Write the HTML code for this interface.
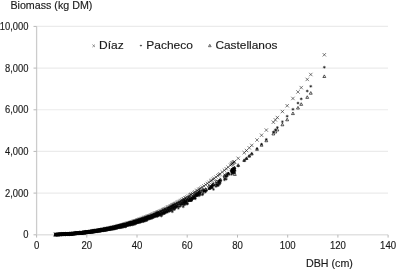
<!DOCTYPE html>
<html><head><meta charset="utf-8"><style>
html,body{margin:0;padding:0;background:#fff;width:396px;height:270px;overflow:hidden}
svg{display:block;will-change:transform}
text{font-family:"Liberation Sans",sans-serif;fill:#1a1a1a;stroke:#1a1a1a;stroke-width:0.15px}
</style></head><body>
<svg width="396" height="270" viewBox="0 0 396 270">
<g stroke="#ebebeb" stroke-width="1.1"><line x1="36.5" x2="388" y1="193.1" y2="193.1"/><line x1="36.5" x2="388" y1="151.4" y2="151.4"/><line x1="36.5" x2="388" y1="109.8" y2="109.8"/><line x1="36.5" x2="388" y1="68.1" y2="68.1"/><line x1="36.5" x2="388" y1="26.4" y2="26.4"/></g>
<g stroke="#b8b8b8" stroke-width="1">
<line x1="36.6" x2="36.6" y1="26.4" y2="234.8" stroke="#cccccc" stroke-width="1.3"/>
<line x1="36.5" x2="388" y1="234.8" y2="234.8" stroke="#e2e2e2" stroke-width="1.5"/>
<line x1="33.5" x2="36.6" y1="234.8" y2="234.8"/><line x1="33.5" x2="36.6" y1="193.1" y2="193.1"/><line x1="33.5" x2="36.6" y1="151.4" y2="151.4"/><line x1="33.5" x2="36.6" y1="109.8" y2="109.8"/><line x1="33.5" x2="36.6" y1="68.1" y2="68.1"/><line x1="33.5" x2="36.6" y1="26.4" y2="26.4"/><line x1="36.6" x2="36.6" y1="234.8" y2="237.6"/><line x1="86.8" x2="86.8" y1="234.8" y2="237.6"/><line x1="137.0" x2="137.0" y1="234.8" y2="237.6"/><line x1="187.2" x2="187.2" y1="234.8" y2="237.6"/><line x1="237.5" x2="237.5" y1="234.8" y2="237.6"/><line x1="287.7" x2="287.7" y1="234.8" y2="237.6"/><line x1="337.9" x2="337.9" y1="234.8" y2="237.6"/><line x1="388.1" x2="388.1" y1="234.8" y2="237.6"/></g>
<g font-size="10" text-anchor="end"><text transform="translate(28.4 238.30) scale(0.94 1)">0</text><text transform="translate(28.4 196.62) scale(0.94 1)">2,000</text><text transform="translate(28.4 154.94) scale(0.94 1)">4,000</text><text transform="translate(28.4 113.26) scale(0.94 1)">6,000</text><text transform="translate(28.4 71.58) scale(0.94 1)">8,000</text><text transform="translate(28.4 29.90) scale(0.94 1)">10,000</text></g>
<g font-size="10" text-anchor="middle"><text transform="translate(36.6 248.6) scale(0.96 1)">0</text><text transform="translate(86.8 248.6) scale(0.96 1)">20</text><text transform="translate(137.0 248.6) scale(0.96 1)">40</text><text transform="translate(187.2 248.6) scale(0.96 1)">60</text><text transform="translate(237.5 248.6) scale(0.96 1)">80</text><text transform="translate(287.7 248.6) scale(0.96 1)">100</text><text transform="translate(337.9 248.6) scale(0.96 1)">120</text><text transform="translate(388.1 248.6) scale(0.96 1)">140</text></g>
<text x="10.4" y="8.6" font-size="10.7">Biomass (kg DM)</text>
<text x="306" y="267.1" font-size="10.7">DBH (cm)</text>
<g fill="none" stroke="#111" stroke-width="0.55">
<path d="M53.73 232.85L57.13 236.25M53.73 236.25L57.13 232.85M53.98 232.84L57.38 236.24M53.98 236.24L57.38 232.84M54.24 232.83L57.64 236.23M54.24 236.23L57.64 232.83M54.49 232.82L57.89 236.22M54.49 236.22L57.89 232.82M54.74 232.81L58.14 236.21M54.74 236.21L58.14 232.81M54.99 232.80L58.39 236.20M54.99 236.20L58.39 232.80M55.25 232.79L58.65 236.19M55.25 236.19L58.65 232.79M55.50 232.78L58.90 236.18M55.50 236.18L58.90 232.78M55.75 232.77L59.15 236.17M55.75 236.17L59.15 232.77M56.01 232.77L59.41 236.17M56.01 236.17L59.41 232.77M56.26 232.76L59.66 236.16M56.26 236.16L59.66 232.76M56.51 232.75L59.91 236.15M56.51 236.15L59.91 232.75M56.77 232.74L60.17 236.14M56.77 236.14L60.17 232.74M57.02 232.73L60.42 236.13M57.02 236.13L60.42 232.73M57.27 232.71L60.67 236.11M57.27 236.11L60.67 232.71M57.53 232.70L60.93 236.10M57.53 236.10L60.93 232.70M57.78 232.69L61.18 236.09M57.78 236.09L61.18 232.69M58.03 232.68L61.43 236.08M58.03 236.08L61.43 232.68M58.29 232.67L61.69 236.07M58.29 236.07L61.69 232.67M58.54 232.66L61.94 236.06M58.54 236.06L61.94 232.66M58.80 232.65L62.20 236.05M58.80 236.05L62.20 232.65M59.05 232.64L62.45 236.04M59.05 236.04L62.45 232.64M59.30 232.63L62.70 236.03M59.30 236.03L62.70 232.63M59.56 232.61L62.96 236.01M59.56 236.01L62.96 232.61M59.81 232.60L63.21 236.00M59.81 236.00L63.21 232.60M60.07 232.59L63.47 235.99M60.07 235.99L63.47 232.59M60.32 232.58L63.72 235.98M60.32 235.98L63.72 232.58M60.57 232.56L63.97 235.96M60.57 235.96L63.97 232.56M60.83 232.55L64.23 235.95M60.83 235.95L64.23 232.55M61.08 232.54L64.48 235.94M61.08 235.94L64.48 232.54M61.34 232.52L64.74 235.92M61.34 235.92L64.74 232.52M61.59 232.51L64.99 235.91M61.59 235.91L64.99 232.51M61.85 232.50L65.25 235.90M61.85 235.90L65.25 232.50M62.10 232.48L65.50 235.88M62.10 235.88L65.50 232.48M62.35 232.47L65.75 235.87M62.35 235.87L65.75 232.47M62.61 232.46L66.01 235.86M62.61 235.86L66.01 232.46M62.86 232.44L66.26 235.84M62.86 235.84L66.26 232.44M63.12 232.43L66.52 235.83M63.12 235.83L66.52 232.43M63.38 232.41L66.78 235.81M63.38 235.81L66.78 232.41M63.63 232.40L67.03 235.80M63.63 235.80L67.03 232.40M63.89 232.38L67.29 235.78M63.89 235.78L67.29 232.38M64.15 232.37L67.55 235.77M64.15 235.77L67.55 232.37M64.41 232.35L67.81 235.75M64.41 235.75L67.81 232.35M64.66 232.33L68.06 235.73M64.66 235.73L68.06 232.33M64.92 232.32L68.32 235.72M64.92 235.72L68.32 232.32M65.18 232.30L68.58 235.70M65.18 235.70L68.58 232.30M65.43 232.29L68.83 235.69M65.43 235.69L68.83 232.29M65.70 232.27L69.10 235.67M65.70 235.67L69.10 232.27M65.95 232.25L69.35 235.65M65.95 235.65L69.35 232.25M66.21 232.23L69.61 235.63M66.21 235.63L69.61 232.23M66.47 232.22L69.87 235.62M66.47 235.62L69.87 232.22M66.73 232.20L70.13 235.60M66.73 235.60L70.13 232.20M66.99 232.18L70.39 235.58M66.99 235.58L70.39 232.18M67.25 232.16L70.65 235.56M67.25 235.56L70.65 232.16M67.51 232.15L70.91 235.55M67.51 235.55L70.91 232.15M67.77 232.13L71.17 235.53M67.77 235.53L71.17 232.13M68.03 232.11L71.43 235.51M68.03 235.51L71.43 232.11M68.28 232.09L71.68 235.49M68.28 235.49L71.68 232.09M68.54 232.07L71.94 235.47M68.54 235.47L71.94 232.07M68.80 232.05L72.20 235.45M68.80 235.45L72.20 232.05M69.06 232.03L72.46 235.43M69.06 235.43L72.46 232.03M69.32 232.01L72.72 235.41M69.32 235.41L72.72 232.01M69.58 231.99L72.98 235.39M69.58 235.39L72.98 231.99M69.84 231.97L73.24 235.37M69.84 235.37L73.24 231.97M70.11 231.95L73.51 235.35M70.11 235.35L73.51 231.95M70.37 231.93L73.77 235.33M70.37 235.33L73.77 231.93M70.63 231.91L74.03 235.31M70.63 235.31L74.03 231.91M70.89 231.89L74.29 235.29M70.89 235.29L74.29 231.89M71.15 231.87L74.55 235.27M71.15 235.27L74.55 231.87M71.41 231.85L74.81 235.25M71.41 235.25L74.81 231.85M71.67 231.83L75.07 235.23M71.67 235.23L75.07 231.83M71.94 231.80L75.34 235.20M71.94 235.20L75.34 231.80M72.19 231.78L75.59 235.18M72.19 235.18L75.59 231.78M72.45 231.76L75.85 235.16M72.45 235.16L75.85 231.76M72.72 231.74L76.12 235.14M72.72 235.14L76.12 231.74M72.99 231.71L76.39 235.11M72.99 235.11L76.39 231.71M73.25 231.69L76.65 235.09M73.25 235.09L76.65 231.69M73.51 231.67L76.91 235.07M73.51 235.07L76.91 231.67M73.77 231.64L77.17 235.04M73.77 235.04L77.17 231.64M74.04 231.62L77.44 235.02M74.04 235.02L77.44 231.62M74.31 231.60L77.71 235.00M74.31 235.00L77.71 231.60M74.58 231.57L77.98 234.97M74.58 234.97L77.98 231.57M74.84 231.55L78.24 234.95M74.84 234.95L78.24 231.55M75.11 231.52L78.51 234.92M75.11 234.92L78.51 231.52M75.38 231.50L78.78 234.90M75.38 234.90L78.78 231.50M75.64 231.47L79.04 234.87M75.64 234.87L79.04 231.47M75.91 231.44L79.31 234.84M75.91 234.84L79.31 231.44M76.18 231.42L79.58 234.82M76.18 234.82L79.58 231.42M76.45 231.39L79.85 234.79M76.45 234.79L79.85 231.39M76.71 231.37L80.11 234.77M76.71 234.77L80.11 231.37M76.98 231.34L80.38 234.74M76.98 234.74L80.38 231.34M77.26 231.31L80.66 234.71M77.26 234.71L80.66 231.31M77.52 231.28L80.92 234.68M77.52 234.68L80.92 231.28M77.79 231.26L81.19 234.66M77.79 234.66L81.19 231.26M78.06 231.23L81.46 234.63M78.06 234.63L81.46 231.23M78.34 231.20L81.74 234.60M78.34 234.60L81.74 231.20M78.61 231.17L82.01 234.57M78.61 234.57L82.01 231.17M78.89 231.14L82.29 234.54M78.89 234.54L82.29 231.14M79.16 231.11L82.56 234.51M79.16 234.51L82.56 231.11M79.43 231.08L82.83 234.48M79.43 234.48L82.83 231.08M79.70 231.05L83.10 234.45M79.70 234.45L83.10 231.05M79.96 231.02L83.36 234.42M79.96 234.42L83.36 231.02M80.24 230.99L83.64 234.39M80.24 234.39L83.64 230.99M80.52 230.96L83.92 234.36M80.52 234.36L83.92 230.96M80.78 230.93L84.18 234.33M80.78 234.33L84.18 230.93M81.06 230.90L84.46 234.30M81.06 234.30L84.46 230.90M81.33 230.87L84.73 234.27M81.33 234.27L84.73 230.87M81.60 230.84L85.00 234.24M81.60 234.24L85.00 230.84M81.87 230.80L85.27 234.20M81.87 234.20L85.27 230.80M82.15 230.77L85.55 234.17M82.15 234.17L85.55 230.77M82.42 230.74L85.82 234.14M82.42 234.14L85.82 230.74M82.70 230.71L86.10 234.11M82.70 234.11L86.10 230.71M82.98 230.67L86.38 234.07M82.98 234.07L86.38 230.67M83.24 230.64L86.64 234.04M83.24 234.04L86.64 230.64M83.51 230.61L86.91 234.01M83.51 234.01L86.91 230.61M83.78 230.57L87.18 233.97M83.78 233.97L87.18 230.57M84.06 230.54L87.46 233.94M84.06 233.94L87.46 230.54M84.35 230.50L87.75 233.90M84.35 233.90L87.75 230.50M84.63 230.47L88.03 233.87M84.63 233.87L88.03 230.47M84.92 230.43L88.32 233.83M84.92 233.83L88.32 230.43M85.21 230.39L88.61 233.79M85.21 233.79L88.61 230.39M85.48 230.36L88.88 233.76M85.48 233.76L88.88 230.36M85.77 230.32L89.17 233.72M85.77 233.72L89.17 230.32M86.06 230.28L89.46 233.68M86.06 233.68L89.46 230.28M86.33 230.25L89.73 233.65M86.33 233.65L89.73 230.25M86.59 230.21L89.99 233.61M86.59 233.61L89.99 230.21M86.86 230.17L90.26 233.57M86.86 233.57L90.26 230.17M87.15 230.13L90.55 233.53M87.15 233.53L90.55 230.13M87.43 230.10L90.83 233.50M87.43 233.50L90.83 230.10M87.70 230.06L91.10 233.46M87.70 233.46L91.10 230.06M87.98 230.02L91.38 233.42M87.98 233.42L91.38 230.02M88.26 229.98L91.66 233.38M88.26 233.38L91.66 229.98M88.53 229.94L91.93 233.34M88.53 233.34L91.93 229.94M88.81 229.90L92.21 233.30M88.81 233.30L92.21 229.90M89.10 229.86L92.50 233.26M89.10 233.26L92.50 229.86M89.37 229.82L92.77 233.22M89.37 233.22L92.77 229.82M89.65 229.78L93.05 233.18M89.65 233.18L93.05 229.78M89.95 229.74L93.35 233.14M89.95 233.14L93.35 229.74M90.23 229.69L93.63 233.09M90.23 233.09L93.63 229.69M90.52 229.65L93.92 233.05M90.52 233.05L93.92 229.65M90.80 229.61L94.20 233.01M90.80 233.01L94.20 229.61M91.08 229.57L94.48 232.97M91.08 232.97L94.48 229.57M91.36 229.53L94.76 232.93M91.36 232.93L94.76 229.53M91.65 229.48L95.05 232.88M91.65 232.88L95.05 229.48M91.93 229.44L95.33 232.84M91.93 232.84L95.33 229.44M92.21 229.39L95.61 232.79M92.21 232.79L95.61 229.39M92.52 229.35L95.92 232.75M92.52 232.75L95.92 229.35M92.81 229.30L96.21 232.70M92.81 232.70L96.21 229.30M93.09 229.26L96.49 232.66M93.09 232.66L96.49 229.26M93.40 229.21L96.80 232.61M93.40 232.61L96.80 229.21M93.71 229.16L97.11 232.56M93.71 232.56L97.11 229.16M93.98 229.11L97.38 232.51M93.98 232.51L97.38 229.11M94.26 229.07L97.66 232.47M94.26 232.47L97.66 229.07M94.54 229.02L97.94 232.42M94.54 232.42L97.94 229.02M94.85 228.97L98.25 232.37M94.85 232.37L98.25 228.97M95.13 228.92L98.53 232.32M95.13 232.32L98.53 228.92M95.44 228.87L98.84 232.27M95.44 232.27L98.84 228.87M95.75 228.82L99.15 232.22M95.75 232.22L99.15 228.82M96.05 228.77L99.45 232.17M96.05 232.17L99.45 228.77M96.34 228.72L99.74 232.12M96.34 232.12L99.74 228.72M96.67 228.66L100.07 232.06M96.67 232.06L100.07 228.66M96.99 228.61L100.39 232.01M96.99 232.01L100.39 228.61M97.30 228.55L100.70 231.95M97.30 231.95L100.70 228.55M97.59 228.50L100.99 231.90M97.59 231.90L100.99 228.50M97.90 228.45L101.30 231.85M97.90 231.85L101.30 228.45M98.20 228.39L101.60 231.79M98.20 231.79L101.60 228.39M98.52 228.34L101.92 231.74M98.52 231.74L101.92 228.34M98.82 228.28L102.22 231.68M98.82 231.68L102.22 228.28M99.13 228.22L102.53 231.62M99.13 231.62L102.53 228.22M99.42 228.17L102.82 231.57M99.42 231.57L102.82 228.17M99.72 228.12L103.12 231.52M99.72 231.52L103.12 228.12M100.06 228.05L103.46 231.45M100.06 231.45L103.46 228.05M100.40 227.99L103.80 231.39M100.40 231.39L103.80 227.99M100.70 227.93L104.10 231.33M100.70 231.33L104.10 227.93M101.04 227.87L104.44 231.27M101.04 231.27L104.44 227.87M101.34 227.81L104.74 231.21M101.34 231.21L104.74 227.81M101.69 227.74L105.09 231.14M101.69 231.14L105.09 227.74M102.02 227.68L105.42 231.08M102.02 231.08L105.42 227.68M102.33 227.62L105.73 231.02M102.33 231.02L105.73 227.62M102.64 227.56L106.04 230.96M102.64 230.96L106.04 227.56M102.92 227.50L106.32 230.90M102.92 230.90L106.32 227.50M103.27 227.43L106.67 230.83M103.27 230.83L106.67 227.43M103.56 227.38L106.96 230.78M103.56 230.78L106.96 227.38M103.91 227.31L107.31 230.71M103.91 230.71L107.31 227.31M104.27 227.23L107.67 230.63M104.27 230.63L107.67 227.23M104.60 227.16L108.00 230.56M104.60 230.56L108.00 227.16M104.90 227.10L108.30 230.50M104.90 230.50L108.30 227.10M105.26 227.03L108.66 230.43M105.26 230.43L108.66 227.03M105.63 226.95L109.03 230.35M105.63 230.35L109.03 226.95M105.98 226.88L109.38 230.28M105.98 230.28L109.38 226.88M106.31 226.81L109.71 230.21M106.31 230.21L109.71 226.81M106.63 226.74L110.03 230.14M106.63 230.14L110.03 226.74M106.95 226.67L110.35 230.07M106.95 230.07L110.35 226.67M107.26 226.60L110.66 230.00M107.26 230.00L110.66 226.60M107.62 226.53L111.02 229.93M107.62 229.93L111.02 226.53M107.95 226.46L111.35 229.86M107.95 229.86L111.35 226.46M108.26 226.39L111.66 229.79M108.26 229.79L111.66 226.39M108.56 226.32L111.96 229.72M108.56 229.72L111.96 226.32M108.92 226.24L112.32 229.64M108.92 229.64L112.32 226.24M109.24 226.17L112.64 229.57M109.24 229.57L112.64 226.17M109.59 226.09L112.99 229.49M109.59 229.49L112.99 226.09M109.92 226.02L113.32 229.42M109.92 229.42L113.32 226.02M110.30 225.93L113.70 229.33M110.30 229.33L113.70 225.93M110.68 225.84L114.08 229.24M110.68 229.24L114.08 225.84M110.99 225.77L114.39 229.17M110.99 229.17L114.39 225.77M111.31 225.70L114.71 229.10M111.31 229.10L114.71 225.70M111.64 225.62L115.04 229.02M111.64 229.02L115.04 225.62M112.04 225.52L115.44 228.92M112.04 228.92L115.44 225.52M112.43 225.43L115.83 228.83M112.43 228.83L115.83 225.43M112.77 225.35L116.17 228.75M112.77 228.75L116.17 225.35M113.09 225.27L116.49 228.67M113.09 228.67L116.49 225.27M113.47 225.18L116.87 228.58M113.47 228.58L116.87 225.18M113.87 225.08L117.27 228.48M113.87 228.48L117.27 225.08M114.28 224.98L117.68 228.38M114.28 228.38L117.68 224.98M114.63 224.90L118.03 228.30M114.63 228.30L118.03 224.90M115.04 224.80L118.44 228.20M115.04 228.20L118.44 224.80M115.42 224.70L118.82 228.10M115.42 228.10L118.82 224.70M115.79 224.61L119.19 228.01M115.79 228.01L119.19 224.61M116.22 224.50L119.62 227.90M116.22 227.90L119.62 224.50M116.56 224.41L119.96 227.81M116.56 227.81L119.96 224.41M116.96 224.31L120.36 227.71M116.96 227.71L120.36 224.31M117.29 224.22L120.69 227.62M117.29 227.62L120.69 224.22M117.62 224.14L121.02 227.54M117.62 227.54L121.02 224.14M118.05 224.02L121.45 227.42M118.05 227.42L121.45 224.02M118.40 223.93L121.80 227.33M118.40 227.33L121.80 223.93M118.81 223.82L122.21 227.22M118.81 227.22L122.21 223.82M119.21 223.72L122.61 227.12M119.21 227.12L122.61 223.72M119.64 223.60L123.04 227.00M119.64 227.00L123.04 223.60M120.01 223.50L123.41 226.90M120.01 226.90L123.41 223.50M120.38 223.40L123.78 226.80M120.38 226.80L123.78 223.40M120.74 223.30L124.14 226.70M120.74 226.70L124.14 223.30M121.19 223.18L124.59 226.58M121.19 226.58L124.59 223.18M121.60 223.06L125.00 226.46M121.60 226.46L125.00 223.06M122.07 222.93L125.47 226.33M122.07 226.33L125.47 222.93M122.52 222.81L125.92 226.21M122.52 226.21L125.92 222.81M122.87 222.71L126.27 226.11M122.87 226.11L126.27 222.71M123.28 222.59L126.68 225.99M123.28 225.99L126.68 222.59M123.63 222.49L127.03 225.89M123.63 225.89L127.03 222.49M123.97 222.39L127.37 225.79M123.97 225.79L127.37 222.39M124.31 222.29L127.71 225.69M124.31 225.69L127.71 222.29M124.78 222.16L128.18 225.56M124.78 225.56L128.18 222.16M125.24 222.02L128.64 225.42M125.24 225.42L128.64 222.02M125.71 221.88L129.11 225.28M125.71 225.28L129.11 221.88M126.11 221.76L129.51 225.16M126.11 225.16L129.51 221.76M126.55 221.63L129.95 225.03M126.55 225.03L129.95 221.63M127.02 221.49L130.42 224.89M127.02 224.89L130.42 221.49M127.43 221.36L130.83 224.76M127.43 224.76L130.83 221.36M127.87 221.23L131.27 224.63M127.87 224.63L131.27 221.23M128.25 221.11L131.65 224.51M128.25 224.51L131.65 221.11M128.61 221.00L132.01 224.40M128.61 224.40L132.01 221.00M129.00 220.88L132.40 224.28M129.00 224.28L132.40 220.88M129.52 220.72L132.92 224.12M129.52 224.12L132.92 220.72M129.97 220.57L133.37 223.97M129.97 223.97L133.37 220.57M130.50 220.40L133.90 223.80M130.50 223.80L133.90 220.40M130.94 220.26L134.34 223.66M130.94 223.66L134.34 220.26M131.35 220.13L134.75 223.53M131.35 223.53L134.75 220.13M131.86 219.97L135.26 223.37M131.86 223.37L135.26 219.97M132.38 219.79L135.78 223.19M132.38 223.19L135.78 219.79M132.74 219.68L136.14 223.08M132.74 223.08L136.14 219.68M133.24 219.51L136.64 222.91M133.24 222.91L136.64 219.51M133.62 219.39L137.02 222.79M133.62 222.79L137.02 219.39M134.00 219.26L137.40 222.66M134.00 222.66L137.40 219.26M134.56 219.07L137.96 222.47M134.56 222.47L137.96 219.07M134.93 218.94L138.33 222.34M134.93 222.34L138.33 218.94M135.34 218.80L138.74 222.20M135.34 222.20L138.74 218.80M135.94 218.60L139.34 222.00M135.94 222.00L139.34 218.60M136.40 218.44L139.80 221.84M136.40 221.84L139.80 218.44M136.80 218.30L140.20 221.70M136.80 221.70L140.20 218.30M137.21 218.15L140.61 221.55M137.21 221.55L140.61 218.15M137.64 218.00L141.04 221.40M137.64 221.40L141.04 218.00M138.19 217.80L141.59 221.20M138.19 221.20L141.59 217.80M138.59 217.66L141.99 221.06M138.59 221.06L141.99 217.66M139.20 217.44L142.60 220.84M139.20 220.84L142.60 217.44M139.68 217.27L143.08 220.67M139.68 220.67L143.08 217.27M140.31 217.04L143.71 220.44M140.31 220.44L143.71 217.04M140.93 216.81L144.33 220.21M140.93 220.21L144.33 216.81M141.40 216.64L144.80 220.04M141.40 220.04L144.80 216.64M141.85 216.47L145.25 219.87M141.85 219.87L145.25 216.47M142.37 216.27L145.77 219.67M142.37 219.67L145.77 216.27M142.79 216.11L146.19 219.51M142.79 219.51L146.19 216.11M143.37 215.89L146.77 219.29M143.37 219.29L146.77 215.89M143.78 215.74L147.18 219.14M143.78 219.14L147.18 215.74M144.18 215.58L147.58 218.98M144.18 218.98L147.58 215.58M144.87 215.32L148.27 218.72M144.87 218.72L148.27 215.32M145.35 215.13L148.75 218.53M145.35 218.53L148.75 215.13M145.94 214.90L149.34 218.30M145.94 218.30L149.34 214.90M146.48 214.68L149.88 218.08M146.48 218.08L149.88 214.68M146.99 214.48L150.39 217.88M146.99 217.88L150.39 214.48M147.42 214.31L150.82 217.71M147.42 217.71L150.82 214.31M148.13 214.02L151.53 217.42M148.13 217.42L151.53 214.02M148.86 213.72L152.26 217.12M148.86 217.12L152.26 213.72M149.60 213.42L153.00 216.82M149.60 216.82L153.00 213.42M150.06 213.23L153.46 216.63M150.06 216.63L153.46 213.23M150.56 213.02L153.96 216.42M150.56 216.42L153.96 213.02M151.20 212.75L154.60 216.15M151.20 216.15L154.60 212.75M151.97 212.42L155.37 215.82M151.97 215.82L155.37 212.42M152.60 212.16L156.00 215.56M152.60 215.56L156.00 212.16M153.29 211.86L156.69 215.26M153.29 215.26L156.69 211.86M153.98 211.56L157.38 214.96M153.98 214.96L157.38 211.56M154.52 211.33L157.92 214.73M154.52 214.73L157.92 211.33M155.17 211.04L158.57 214.44M155.17 214.44L158.57 211.04M155.74 210.79L159.14 214.19M155.74 214.19L159.14 210.79M156.29 210.54L159.69 213.94M156.29 213.94L159.69 210.54M156.77 210.33L160.17 213.73M156.77 213.73L160.17 210.33M157.34 210.07L160.74 213.47M157.34 213.47L160.74 210.07M158.21 209.67L161.61 213.07M158.21 213.07L161.61 209.67M158.86 209.38L162.26 212.78M158.86 212.78L162.26 209.38M159.61 209.03L163.01 212.43M159.61 212.43L163.01 209.03M160.36 208.68L163.76 212.08M160.36 212.08L163.76 208.68M161.25 208.26L164.65 211.66M161.25 211.66L164.65 208.26M161.91 207.95L165.31 211.35M161.91 211.35L165.31 207.95M162.53 207.65L165.93 211.05M162.53 211.05L165.93 207.65M163.17 207.34L166.57 210.74M163.17 210.74L166.57 207.34M163.81 207.03L167.21 210.43M163.81 210.43L167.21 207.03M164.71 206.59L168.11 209.99M164.71 209.99L168.11 206.59M165.65 206.13L169.05 209.53M165.65 209.53L169.05 206.13M166.31 205.80L169.71 209.20M166.31 209.20L169.71 205.80M166.98 205.46L170.38 208.86M166.98 208.86L170.38 205.46M167.78 205.06L171.18 208.46M167.78 208.46L171.18 205.06M168.60 204.64L172.00 208.04M168.60 208.04L172.00 204.64M169.44 204.20L172.84 207.60M169.44 207.60L172.84 204.20M170.10 203.86L173.50 207.26M170.10 207.26L173.50 203.86M170.64 203.58L174.04 206.98M170.64 206.98L174.04 203.58M171.31 203.23L174.71 206.63M171.31 206.63L174.71 203.23M171.89 202.92L175.29 206.32M171.89 206.32L175.29 202.92M172.75 202.46L176.15 205.86M172.75 205.86L176.15 202.46M173.34 202.15L176.74 205.55M173.34 205.55L176.74 202.15M173.94 201.83L177.34 205.23M173.94 205.23L177.34 201.83M174.88 201.31L178.28 204.71M174.88 204.71L178.28 201.31M175.62 200.91L179.02 204.31M175.62 204.31L179.02 200.91M176.68 200.32L180.08 203.72M176.68 203.72L180.08 200.32M177.57 199.82L180.97 203.22M177.57 203.22L180.97 199.82M178.72 199.18L182.12 202.58M178.72 202.58L182.12 199.18M179.41 198.78L182.81 202.18M179.41 202.18L182.81 198.78M180.34 198.25L183.74 201.65M180.34 201.65L183.74 198.25M181.49 197.58L184.89 200.98M181.49 200.98L184.89 197.58M182.15 197.19L185.55 200.59M182.15 200.59L185.55 197.19M183.44 196.43L186.84 199.83M183.44 199.83L186.84 196.43M184.19 195.98L187.59 199.38M184.19 199.38L187.59 195.98M185.40 195.26L188.80 198.66M185.40 198.66L188.80 195.26M186.80 194.41L190.20 197.81M186.80 197.81L190.20 194.41M188.09 193.61L191.49 197.01M188.09 197.01L191.49 193.61M189.01 193.04L192.41 196.44M189.01 196.44L192.41 193.04M189.76 192.57L193.16 195.97M189.76 195.97L193.16 192.57M190.86 191.87L194.26 195.27M190.86 195.27L194.26 191.87M192.33 190.93L195.73 194.33M192.33 194.33L195.73 190.93M193.28 190.31L196.68 193.71M193.28 193.71L196.68 190.31M194.78 189.33L198.18 192.73M194.78 192.73L198.18 189.33M195.62 188.78L199.02 192.18M195.62 192.18L199.02 188.78M197.19 187.72L200.59 191.12M197.19 191.12L200.59 187.72M197.96 187.21L201.36 190.61M197.96 190.61L201.36 187.21M199.01 186.49L202.41 189.89M199.01 189.89L202.41 186.49M200.66 185.36L204.06 188.76M200.66 188.76L204.06 185.36M202.25 184.25L205.65 187.65M202.25 187.65L205.65 184.25M203.98 183.02L207.38 186.42M203.98 186.42L207.38 183.02M205.70 181.79L209.10 185.19M205.70 185.19L209.10 181.79M207.35 180.59L210.75 183.99M207.35 183.99L210.75 180.59M208.98 179.38L212.38 182.78M208.98 182.78L212.38 179.38M210.04 178.60L213.44 182.00M210.04 182.00L213.44 178.60M211.42 177.56L214.82 180.96M211.42 180.96L214.82 177.56M212.48 176.74L215.88 180.14M212.48 180.14L215.88 176.74M214.27 175.37L217.67 178.77M214.27 178.77L217.67 175.37M216.04 173.99L219.44 177.39M216.04 177.39L219.44 173.99M217.30 172.99L220.70 176.39M217.30 176.39L220.70 172.99M218.33 172.18L221.73 175.58M218.33 175.58L221.73 172.18M220.62 170.33L224.02 173.73M220.62 173.73L224.02 170.33M222.76 168.58L226.16 171.98M222.76 171.98L226.16 168.58M224.58 167.06L227.98 170.46M224.58 170.46L227.98 167.06M226.43 165.50L229.83 168.90M226.43 168.90L229.83 165.50M228.82 163.45L232.22 166.85M228.82 166.85L232.22 163.45M230.64 161.86L234.04 165.26M230.64 165.26L234.04 161.86M232.41 160.31L235.81 163.71M232.41 163.71L235.81 160.31M229.73 162.66L233.13 166.06M229.73 166.06L233.13 162.66M230.48 162.00L233.88 165.40M230.48 165.40L233.88 162.00M231.24 161.34L234.64 164.74M231.24 164.74L234.64 161.34M231.99 160.68L235.39 164.08M231.99 164.08L235.39 160.68M232.74 160.01L236.14 163.41M232.74 163.41L236.14 160.01M236.51 156.62L239.91 160.02M236.51 160.02L239.91 156.62M242.54 151.00L245.94 154.40M242.54 154.40L245.94 151.00M244.80 148.83L248.20 152.23M244.80 152.23L248.20 148.83M247.56 146.14L250.96 149.54M247.56 149.54L250.96 146.14M250.07 143.65L253.47 147.05M250.07 147.05L253.47 143.65M255.34 138.28L258.74 141.68M255.34 141.68L258.74 138.28M259.86 133.53L263.26 136.93M259.86 136.93L263.26 133.53M264.63 128.38L268.03 131.78M264.63 131.78L268.03 128.38M271.66 120.50L275.06 123.90M271.66 123.90L275.06 120.50M273.67 118.18L277.07 121.58M273.67 121.58L277.07 118.18M275.68 115.84L279.08 119.24M275.68 119.24L279.08 115.84M280.70 109.87L284.10 113.27M280.70 113.27L284.10 109.87M285.47 104.04L288.87 107.44M285.47 107.44L288.87 104.04M291.24 96.76L294.64 100.16M291.24 100.16L294.64 96.76M296.27 90.25L299.67 93.65M296.27 93.65L299.67 90.25M299.53 85.92L302.93 89.32M299.53 89.32L302.93 85.92M305.56 77.72L308.95 81.12M305.56 81.12L308.95 77.72M309.07 72.82L312.47 76.22M309.07 76.22L312.47 72.82M322.63 53.08L326.03 56.48M322.63 56.48L326.03 53.08"/>
</g>
<g fill="none" stroke="#111" stroke-width="0.55">
<path d="M53.98 234.62h2.90M55.43 233.17v2.90M54.56 233.75l1.74 1.74M54.56 235.49l1.74 -1.74M54.23 234.61h2.90M55.68 233.16v2.90M54.81 233.74l1.74 1.74M54.81 235.48l1.74 -1.74M54.49 234.60h2.90M55.94 233.15v2.90M55.07 233.73l1.74 1.74M55.07 235.47l1.74 -1.74M54.74 234.60h2.90M56.19 233.15v2.90M55.32 233.73l1.74 1.74M55.32 235.47l1.74 -1.74M54.99 234.59h2.90M56.44 233.14v2.90M55.57 233.72l1.74 1.74M55.57 235.46l1.74 -1.74M55.24 234.58h2.90M56.69 233.13v2.90M55.82 233.71l1.74 1.74M55.82 235.45l1.74 -1.74M55.50 234.58h2.90M56.95 233.13v2.90M56.08 233.71l1.74 1.74M56.08 235.45l1.74 -1.74M55.75 234.57h2.90M57.20 233.12v2.90M56.33 233.70l1.74 1.74M56.33 235.44l1.74 -1.74M56.00 234.56h2.90M57.45 233.11v2.90M56.58 233.69l1.74 1.74M56.58 235.43l1.74 -1.74M56.26 234.56h2.90M57.71 233.11v2.90M56.84 233.69l1.74 1.74M56.84 235.43l1.74 -1.74M56.51 234.55h2.90M57.96 233.10v2.90M57.09 233.68l1.74 1.74M57.09 235.42l1.74 -1.74M56.76 234.54h2.90M58.21 233.09v2.90M57.34 233.67l1.74 1.74M57.34 235.41l1.74 -1.74M57.02 234.53h2.90M58.47 233.08v2.90M57.60 233.66l1.74 1.74M57.60 235.40l1.74 -1.74M57.27 234.53h2.90M58.72 233.08v2.90M57.85 233.66l1.74 1.74M57.85 235.40l1.74 -1.74M57.52 234.52h2.90M58.97 233.07v2.90M58.10 233.65l1.74 1.74M58.10 235.39l1.74 -1.74M57.78 234.51h2.90M59.23 233.06v2.90M58.36 233.64l1.74 1.74M58.36 235.38l1.74 -1.74M58.03 234.50h2.90M59.48 233.05v2.90M58.61 233.63l1.74 1.74M58.61 235.37l1.74 -1.74M58.28 234.49h2.90M59.73 233.04v2.90M58.86 233.62l1.74 1.74M58.86 235.36l1.74 -1.74M58.54 234.48h2.90M59.99 233.03v2.90M59.12 233.61l1.74 1.74M59.12 235.35l1.74 -1.74M58.79 234.48h2.90M60.24 233.03v2.90M59.37 233.61l1.74 1.74M59.37 235.35l1.74 -1.74M59.05 234.47h2.90M60.50 233.02v2.90M59.63 233.60l1.74 1.74M59.63 235.34l1.74 -1.74M59.30 234.46h2.90M60.75 233.01v2.90M59.88 233.59l1.74 1.74M59.88 235.33l1.74 -1.74M59.55 234.45h2.90M61.00 233.00v2.90M60.13 233.58l1.74 1.74M60.13 235.32l1.74 -1.74M59.81 234.44h2.90M61.26 232.99v2.90M60.39 233.57l1.74 1.74M60.39 235.31l1.74 -1.74M60.06 234.43h2.90M61.51 232.98v2.90M60.64 233.56l1.74 1.74M60.64 235.30l1.74 -1.74M60.32 234.42h2.90M61.77 232.97v2.90M60.90 233.55l1.74 1.74M60.90 235.29l1.74 -1.74M60.57 234.41h2.90M62.02 232.96v2.90M61.15 233.54l1.74 1.74M61.15 235.28l1.74 -1.74M60.82 234.40h2.90M62.27 232.95v2.90M61.40 233.53l1.74 1.74M61.40 235.27l1.74 -1.74M61.08 234.39h2.90M62.53 232.94v2.90M61.66 233.52l1.74 1.74M61.66 235.26l1.74 -1.74M61.33 234.38h2.90M62.78 232.93v2.90M61.91 233.51l1.74 1.74M61.91 235.25l1.74 -1.74M61.59 234.37h2.90M63.04 232.92v2.90M62.17 233.50l1.74 1.74M62.17 235.24l1.74 -1.74M61.84 234.36h2.90M63.29 232.91v2.90M62.42 233.49l1.74 1.74M62.42 235.23l1.74 -1.74M62.10 234.35h2.90M63.55 232.90v2.90M62.68 233.48l1.74 1.74M62.68 235.22l1.74 -1.74M62.35 234.34h2.90M63.80 232.89v2.90M62.93 233.47l1.74 1.74M62.93 235.21l1.74 -1.74M62.60 234.33h2.90M64.05 232.88v2.90M63.18 233.46l1.74 1.74M63.18 235.20l1.74 -1.74M62.86 234.32h2.90M64.31 232.87v2.90M63.44 233.45l1.74 1.74M63.44 235.19l1.74 -1.74M63.11 234.31h2.90M64.56 232.86v2.90M63.69 233.44l1.74 1.74M63.69 235.18l1.74 -1.74M63.37 234.30h2.90M64.82 232.85v2.90M63.95 233.43l1.74 1.74M63.95 235.17l1.74 -1.74M63.63 234.28h2.90M65.08 232.83v2.90M64.21 233.41l1.74 1.74M64.21 235.15l1.74 -1.74M63.88 234.27h2.90M65.33 232.82v2.90M64.46 233.40l1.74 1.74M64.46 235.14l1.74 -1.74M64.14 234.26h2.90M65.59 232.81v2.90M64.72 233.39l1.74 1.74M64.72 235.13l1.74 -1.74M64.40 234.25h2.90M65.85 232.80v2.90M64.98 233.38l1.74 1.74M64.98 235.12l1.74 -1.74M64.66 234.24h2.90M66.11 232.79v2.90M65.24 233.37l1.74 1.74M65.24 235.11l1.74 -1.74M64.91 234.22h2.90M66.36 232.77v2.90M65.49 233.35l1.74 1.74M65.49 235.09l1.74 -1.74M65.17 234.21h2.90M66.62 232.76v2.90M65.75 233.34l1.74 1.74M65.75 235.08l1.74 -1.74M65.43 234.20h2.90M66.88 232.75v2.90M66.01 233.33l1.74 1.74M66.01 235.07l1.74 -1.74M65.68 234.19h2.90M67.13 232.74v2.90M66.26 233.32l1.74 1.74M66.26 235.06l1.74 -1.74M65.95 234.17h2.90M67.40 232.72v2.90M66.53 233.30l1.74 1.74M66.53 235.04l1.74 -1.74M66.20 234.16h2.90M67.65 232.71v2.90M66.78 233.29l1.74 1.74M66.78 235.03l1.74 -1.74M66.46 234.15h2.90M67.91 232.70v2.90M67.04 233.28l1.74 1.74M67.04 235.02l1.74 -1.74M66.72 234.13h2.90M68.17 232.68v2.90M67.30 233.26l1.74 1.74M67.30 235.00l1.74 -1.74M66.98 234.12h2.90M68.43 232.67v2.90M67.56 233.25l1.74 1.74M67.56 234.99l1.74 -1.74M67.24 234.11h2.90M68.69 232.66v2.90M67.82 233.24l1.74 1.74M67.82 234.98l1.74 -1.74M67.50 234.09h2.90M68.95 232.64v2.90M68.08 233.22l1.74 1.74M68.08 234.96l1.74 -1.74M67.76 234.08h2.90M69.21 232.63v2.90M68.34 233.21l1.74 1.74M68.34 234.95l1.74 -1.74M68.02 234.06h2.90M69.47 232.61v2.90M68.60 233.19l1.74 1.74M68.60 234.93l1.74 -1.74M68.28 234.05h2.90M69.73 232.60v2.90M68.86 233.18l1.74 1.74M68.86 234.92l1.74 -1.74M68.53 234.03h2.90M69.98 232.58v2.90M69.11 233.16l1.74 1.74M69.11 234.90l1.74 -1.74M68.79 234.02h2.90M70.24 232.57v2.90M69.37 233.15l1.74 1.74M69.37 234.89l1.74 -1.74M69.05 234.00h2.90M70.50 232.55v2.90M69.63 233.13l1.74 1.74M69.63 234.87l1.74 -1.74M69.31 233.99h2.90M70.76 232.54v2.90M69.89 233.12l1.74 1.74M69.89 234.86l1.74 -1.74M69.57 233.97h2.90M71.02 232.52v2.90M70.15 233.10l1.74 1.74M70.15 234.84l1.74 -1.74M69.83 233.96h2.90M71.28 232.51v2.90M70.41 233.09l1.74 1.74M70.41 234.83l1.74 -1.74M70.09 233.94h2.90M71.54 232.49v2.90M70.67 233.07l1.74 1.74M70.67 234.81l1.74 -1.74M70.36 233.92h2.90M71.81 232.47v2.90M70.94 233.05l1.74 1.74M70.94 234.79l1.74 -1.74M70.62 233.91h2.90M72.07 232.46v2.90M71.20 233.04l1.74 1.74M71.20 234.78l1.74 -1.74M70.88 233.89h2.90M72.33 232.44v2.90M71.46 233.02l1.74 1.74M71.46 234.76l1.74 -1.74M71.14 233.87h2.90M72.59 232.42v2.90M71.72 233.00l1.74 1.74M71.72 234.74l1.74 -1.74M71.40 233.86h2.90M72.85 232.41v2.90M71.98 232.99l1.74 1.74M71.98 234.73l1.74 -1.74M71.66 233.84h2.90M73.11 232.39v2.90M72.24 232.97l1.74 1.74M72.24 234.71l1.74 -1.74M71.92 233.82h2.90M73.37 232.37v2.90M72.50 232.95l1.74 1.74M72.50 234.69l1.74 -1.74M72.19 233.81h2.90M73.64 232.36v2.90M72.77 232.94l1.74 1.74M72.77 234.68l1.74 -1.74M72.44 233.79h2.90M73.89 232.34v2.90M73.02 232.92l1.74 1.74M73.02 234.66l1.74 -1.74M72.70 233.77h2.90M74.15 232.32v2.90M73.28 232.90l1.74 1.74M73.28 234.64l1.74 -1.74M72.97 233.75h2.90M74.42 232.30v2.90M73.55 232.88l1.74 1.74M73.55 234.62l1.74 -1.74M73.24 233.73h2.90M74.69 232.28v2.90M73.82 232.86l1.74 1.74M73.82 234.60l1.74 -1.74M73.50 233.71h2.90M74.95 232.26v2.90M74.08 232.84l1.74 1.74M74.08 234.58l1.74 -1.74M73.76 233.70h2.90M75.21 232.25v2.90M74.34 232.83l1.74 1.74M74.34 234.57l1.74 -1.74M74.02 233.68h2.90M75.47 232.23v2.90M74.60 232.81l1.74 1.74M74.60 234.55l1.74 -1.74M74.29 233.66h2.90M75.74 232.21v2.90M74.87 232.79l1.74 1.74M74.87 234.53l1.74 -1.74M74.56 233.64h2.90M76.01 232.19v2.90M75.14 232.77l1.74 1.74M75.14 234.51l1.74 -1.74M74.83 233.62h2.90M76.28 232.17v2.90M75.41 232.75l1.74 1.74M75.41 234.49l1.74 -1.74M75.09 233.60h2.90M76.54 232.15v2.90M75.67 232.73l1.74 1.74M75.67 234.47l1.74 -1.74M75.36 233.58h2.90M76.81 232.13v2.90M75.94 232.71l1.74 1.74M75.94 234.45l1.74 -1.74M75.63 233.56h2.90M77.08 232.11v2.90M76.21 232.69l1.74 1.74M76.21 234.43l1.74 -1.74M75.89 233.54h2.90M77.34 232.09v2.90M76.47 232.67l1.74 1.74M76.47 234.41l1.74 -1.74M76.16 233.52h2.90M77.61 232.07v2.90M76.74 232.65l1.74 1.74M76.74 234.39l1.74 -1.74M76.43 233.50h2.90M77.88 232.05v2.90M77.01 232.63l1.74 1.74M77.01 234.37l1.74 -1.74M76.70 233.47h2.90M78.15 232.02v2.90M77.28 232.60l1.74 1.74M77.28 234.34l1.74 -1.74M76.96 233.45h2.90M78.41 232.00v2.90M77.54 232.58l1.74 1.74M77.54 234.32l1.74 -1.74M77.23 233.43h2.90M78.68 231.98v2.90M77.81 232.56l1.74 1.74M77.81 234.30l1.74 -1.74M77.51 233.41h2.90M78.96 231.96v2.90M78.09 232.54l1.74 1.74M78.09 234.28l1.74 -1.74M77.77 233.39h2.90M79.22 231.94v2.90M78.35 232.52l1.74 1.74M78.35 234.26l1.74 -1.74M78.04 233.36h2.90M79.49 231.91v2.90M78.62 232.49l1.74 1.74M78.62 234.23l1.74 -1.74M78.31 233.34h2.90M79.76 231.89v2.90M78.89 232.47l1.74 1.74M78.89 234.21l1.74 -1.74M78.59 233.32h2.90M80.04 231.87v2.90M79.17 232.45l1.74 1.74M79.17 234.19l1.74 -1.74M78.86 233.29h2.90M80.31 231.84v2.90M79.44 232.42l1.74 1.74M79.44 234.16l1.74 -1.74M79.14 233.27h2.90M80.59 231.82v2.90M79.72 232.40l1.74 1.74M79.72 234.14l1.74 -1.74M79.41 233.25h2.90M80.86 231.80v2.90M79.99 232.38l1.74 1.74M79.99 234.12l1.74 -1.74M79.68 233.22h2.90M81.13 231.77v2.90M80.26 232.35l1.74 1.74M80.26 234.09l1.74 -1.74M79.95 233.20h2.90M81.40 231.75v2.90M80.53 232.33l1.74 1.74M80.53 234.07l1.74 -1.74M80.21 233.18h2.90M81.66 231.73v2.90M80.79 232.31l1.74 1.74M80.79 234.05l1.74 -1.74M80.49 233.15h2.90M81.94 231.70v2.90M81.07 232.28l1.74 1.74M81.07 234.02l1.74 -1.74M80.77 233.13h2.90M82.22 231.68v2.90M81.35 232.26l1.74 1.74M81.35 234.00l1.74 -1.74M81.03 233.10h2.90M82.48 231.65v2.90M81.61 232.23l1.74 1.74M81.61 233.97l1.74 -1.74M81.31 233.08h2.90M82.76 231.63v2.90M81.89 232.21l1.74 1.74M81.89 233.95l1.74 -1.74M81.58 233.05h2.90M83.03 231.60v2.90M82.16 232.18l1.74 1.74M82.16 233.92l1.74 -1.74M81.85 233.02h2.90M83.30 231.57v2.90M82.43 232.15l1.74 1.74M82.43 233.89l1.74 -1.74M82.12 233.00h2.90M83.57 231.55v2.90M82.70 232.13l1.74 1.74M82.70 233.87l1.74 -1.74M82.40 232.97h2.90M83.85 231.52v2.90M82.98 232.10l1.74 1.74M82.98 233.84l1.74 -1.74M82.67 232.94h2.90M84.12 231.49v2.90M83.25 232.07l1.74 1.74M83.25 233.81l1.74 -1.74M82.95 232.92h2.90M84.40 231.47v2.90M83.53 232.05l1.74 1.74M83.53 233.79l1.74 -1.74M83.23 232.89h2.90M84.68 231.44v2.90M83.81 232.02l1.74 1.74M83.81 233.76l1.74 -1.74M83.49 232.86h2.90M84.94 231.41v2.90M84.07 231.99l1.74 1.74M84.07 233.73l1.74 -1.74M83.76 232.84h2.90M85.21 231.39v2.90M84.34 231.97l1.74 1.74M84.34 233.71l1.74 -1.74M84.03 232.81h2.90M85.48 231.36v2.90M84.61 231.94l1.74 1.74M84.61 233.68l1.74 -1.74M84.31 232.78h2.90M85.76 231.33v2.90M84.89 231.91l1.74 1.74M84.89 233.65l1.74 -1.74M84.60 232.75h2.90M86.05 231.30v2.90M85.18 231.88l1.74 1.74M85.18 233.62l1.74 -1.74M84.88 232.72h2.90M86.33 231.27v2.90M85.46 231.85l1.74 1.74M85.46 233.59l1.74 -1.74M85.17 232.69h2.90M86.62 231.24v2.90M85.75 231.82l1.74 1.74M85.75 233.56l1.74 -1.74M85.46 232.66h2.90M86.91 231.21v2.90M86.04 231.79l1.74 1.74M86.04 233.53l1.74 -1.74M85.73 232.63h2.90M87.18 231.18v2.90M86.31 231.76l1.74 1.74M86.31 233.50l1.74 -1.74M86.02 232.60h2.90M87.47 231.15v2.90M86.60 231.73l1.74 1.74M86.60 233.47l1.74 -1.74M86.31 232.57h2.90M87.76 231.12v2.90M86.89 231.70l1.74 1.74M86.89 233.44l1.74 -1.74M86.58 232.54h2.90M88.03 231.09v2.90M87.16 231.67l1.74 1.74M87.16 233.41l1.74 -1.74M86.84 232.51h2.90M88.29 231.06v2.90M87.42 231.64l1.74 1.74M87.42 233.38l1.74 -1.74M87.11 232.48h2.90M88.56 231.03v2.90M87.69 231.61l1.74 1.74M87.69 233.35l1.74 -1.74M87.40 232.45h2.90M88.85 231.00v2.90M87.98 231.58l1.74 1.74M87.98 233.32l1.74 -1.74M87.68 232.42h2.90M89.13 230.97v2.90M88.26 231.55l1.74 1.74M88.26 233.29l1.74 -1.74M87.95 232.39h2.90M89.40 230.94v2.90M88.53 231.52l1.74 1.74M88.53 233.26l1.74 -1.74M88.23 232.35h2.90M89.68 230.90v2.90M88.81 231.48l1.74 1.74M88.81 233.22l1.74 -1.74M88.51 232.32h2.90M89.96 230.87v2.90M89.09 231.45l1.74 1.74M89.09 233.19l1.74 -1.74M88.78 232.29h2.90M90.23 230.84v2.90M89.36 231.42l1.74 1.74M89.36 233.16l1.74 -1.74M89.06 232.26h2.90M90.51 230.81v2.90M89.64 231.39l1.74 1.74M89.64 233.13l1.74 -1.74M89.35 232.22h2.90M90.80 230.77v2.90M89.93 231.35l1.74 1.74M89.93 233.09l1.74 -1.74M89.62 232.19h2.90M91.07 230.74v2.90M90.20 231.32l1.74 1.74M90.20 233.06l1.74 -1.74M89.90 232.16h2.90M91.35 230.71v2.90M90.48 231.29l1.74 1.74M90.48 233.03l1.74 -1.74M90.20 232.12h2.90M91.65 230.67v2.90M90.78 231.25l1.74 1.74M90.78 232.99l1.74 -1.74M90.48 232.09h2.90M91.93 230.64v2.90M91.06 231.22l1.74 1.74M91.06 232.96l1.74 -1.74M90.77 232.05h2.90M92.22 230.60v2.90M91.35 231.18l1.74 1.74M91.35 232.92l1.74 -1.74M91.05 232.01h2.90M92.50 230.56v2.90M91.63 231.14l1.74 1.74M91.63 232.88l1.74 -1.74M91.33 231.98h2.90M92.78 230.53v2.90M91.91 231.11l1.74 1.74M91.91 232.85l1.74 -1.74M91.61 231.94h2.90M93.06 230.49v2.90M92.19 231.07l1.74 1.74M92.19 232.81l1.74 -1.74M91.90 231.91h2.90M93.35 230.46v2.90M92.48 231.04l1.74 1.74M92.48 232.78l1.74 -1.74M92.18 231.87h2.90M93.63 230.42v2.90M92.76 231.00l1.74 1.74M92.76 232.74l1.74 -1.74M92.46 231.84h2.90M93.91 230.39v2.90M93.04 230.97l1.74 1.74M93.04 232.71l1.74 -1.74M92.77 231.80h2.90M94.22 230.35v2.90M93.35 230.93l1.74 1.74M93.35 232.67l1.74 -1.74M93.06 231.76h2.90M94.51 230.31v2.90M93.64 230.89l1.74 1.74M93.64 232.63l1.74 -1.74M93.34 231.72h2.90M94.79 230.27v2.90M93.92 230.85l1.74 1.74M93.92 232.59l1.74 -1.74M93.65 231.68h2.90M95.10 230.23v2.90M94.23 230.81l1.74 1.74M94.23 232.55l1.74 -1.74M93.96 231.64h2.90M95.41 230.19v2.90M94.54 230.77l1.74 1.74M94.54 232.51l1.74 -1.74M94.23 231.60h2.90M95.68 230.15v2.90M94.81 230.73l1.74 1.74M94.81 232.47l1.74 -1.74M94.51 231.56h2.90M95.96 230.11v2.90M95.09 230.69l1.74 1.74M95.09 232.43l1.74 -1.74M94.79 231.53h2.90M96.24 230.08v2.90M95.37 230.66l1.74 1.74M95.37 232.40l1.74 -1.74M95.10 231.48h2.90M96.55 230.03v2.90M95.68 230.61l1.74 1.74M95.68 232.35l1.74 -1.74M95.38 231.44h2.90M96.83 229.99v2.90M95.96 230.57l1.74 1.74M95.96 232.31l1.74 -1.74M95.69 231.40h2.90M97.14 229.95v2.90M96.27 230.53l1.74 1.74M96.27 232.27l1.74 -1.74M96.00 231.36h2.90M97.45 229.91v2.90M96.58 230.49l1.74 1.74M96.58 232.23l1.74 -1.74M96.30 231.31h2.90M97.75 229.86v2.90M96.88 230.44l1.74 1.74M96.88 232.18l1.74 -1.74M96.59 231.27h2.90M98.04 229.82v2.90M97.17 230.40l1.74 1.74M97.17 232.14l1.74 -1.74M96.92 231.23h2.90M98.37 229.78v2.90M97.50 230.36l1.74 1.74M97.50 232.10l1.74 -1.74M97.24 231.18h2.90M98.69 229.73v2.90M97.82 230.31l1.74 1.74M97.82 232.05l1.74 -1.74M97.55 231.13h2.90M99.00 229.68v2.90M98.13 230.26l1.74 1.74M98.13 232.00l1.74 -1.74M97.84 231.09h2.90M99.29 229.64v2.90M98.42 230.22l1.74 1.74M98.42 231.96l1.74 -1.74M98.15 231.13h2.90M99.60 229.68v2.90M98.73 230.26l1.74 1.74M98.73 232.00l1.74 -1.74M98.45 231.00h2.90M99.90 229.55v2.90M99.03 230.13l1.74 1.74M99.03 231.87l1.74 -1.74M98.77 231.04h2.90M100.22 229.59v2.90M99.35 230.17l1.74 1.74M99.35 231.91l1.74 -1.74M99.07 231.00h2.90M100.52 229.55v2.90M99.65 230.13l1.74 1.74M99.65 231.87l1.74 -1.74M99.38 231.03h2.90M100.83 229.58v2.90M99.96 230.16l1.74 1.74M99.96 231.90l1.74 -1.74M99.67 230.90h2.90M101.12 229.45v2.90M100.25 230.03l1.74 1.74M100.25 231.77l1.74 -1.74M99.97 230.72h2.90M101.42 229.27v2.90M100.55 229.85l1.74 1.74M100.55 231.59l1.74 -1.74M100.31 230.72h2.90M101.76 229.27v2.90M100.89 229.85l1.74 1.74M100.89 231.59l1.74 -1.74M100.65 230.61h2.90M102.10 229.16v2.90M101.23 229.74l1.74 1.74M101.23 231.48l1.74 -1.74M100.95 230.65h2.90M102.40 229.20v2.90M101.53 229.78l1.74 1.74M101.53 231.52l1.74 -1.74M101.29 230.57h2.90M102.74 229.12v2.90M101.87 229.70l1.74 1.74M101.87 231.44l1.74 -1.74M101.59 230.55h2.90M103.04 229.10v2.90M102.17 229.68l1.74 1.74M102.17 231.42l1.74 -1.74M101.94 230.74h2.90M103.39 229.29v2.90M102.52 229.87l1.74 1.74M102.52 231.61l1.74 -1.74M102.27 230.35h2.90M103.72 228.90v2.90M102.85 229.48l1.74 1.74M102.85 231.22l1.74 -1.74M102.58 230.35h2.90M104.03 228.90v2.90M103.16 229.48l1.74 1.74M103.16 231.22l1.74 -1.74M102.89 230.30h2.90M104.34 228.85v2.90M103.47 229.43l1.74 1.74M103.47 231.17l1.74 -1.74M103.17 230.55h2.90M104.62 229.10v2.90M103.75 229.68l1.74 1.74M103.75 231.42l1.74 -1.74M103.52 230.50h2.90M104.97 229.05v2.90M104.10 229.63l1.74 1.74M104.10 231.37l1.74 -1.74M103.81 230.34h2.90M105.26 228.89v2.90M104.39 229.47l1.74 1.74M104.39 231.21l1.74 -1.74M104.16 230.22h2.90M105.61 228.77v2.90M104.74 229.35l1.74 1.74M104.74 231.09l1.74 -1.74M104.52 230.05h2.90M105.97 228.60v2.90M105.10 229.18l1.74 1.74M105.10 230.92l1.74 -1.74M104.85 230.04h2.90M106.30 228.59v2.90M105.43 229.17l1.74 1.74M105.43 230.91l1.74 -1.74M105.15 229.91h2.90M106.60 228.46v2.90M105.73 229.04l1.74 1.74M105.73 230.78l1.74 -1.74M105.51 230.02h2.90M106.96 228.57v2.90M106.09 229.15l1.74 1.74M106.09 230.89l1.74 -1.74M105.88 229.81h2.90M107.33 228.36v2.90M106.46 228.94l1.74 1.74M106.46 230.68l1.74 -1.74M106.23 229.74h2.90M107.68 228.29v2.90M106.81 228.87l1.74 1.74M106.81 230.61l1.74 -1.74M106.56 229.84h2.90M108.01 228.39v2.90M107.14 228.97l1.74 1.74M107.14 230.71l1.74 -1.74M106.88 229.54h2.90M108.33 228.09v2.90M107.46 228.67l1.74 1.74M107.46 230.41l1.74 -1.74M107.20 229.54h2.90M108.65 228.09v2.90M107.78 228.67l1.74 1.74M107.78 230.41l1.74 -1.74M107.51 229.43h2.90M108.96 227.98v2.90M108.09 228.56l1.74 1.74M108.09 230.30l1.74 -1.74M107.87 229.61h2.90M109.32 228.16v2.90M108.45 228.74l1.74 1.74M108.45 230.48l1.74 -1.74M108.20 229.57h2.90M109.65 228.12v2.90M108.78 228.70l1.74 1.74M108.78 230.44l1.74 -1.74M108.51 229.44h2.90M109.96 227.99v2.90M109.09 228.57l1.74 1.74M109.09 230.31l1.74 -1.74M108.81 229.35h2.90M110.26 227.90v2.90M109.39 228.48l1.74 1.74M109.39 230.22l1.74 -1.74M109.17 229.16h2.90M110.62 227.71v2.90M109.75 228.29l1.74 1.74M109.75 230.03l1.74 -1.74M109.49 229.16h2.90M110.94 227.71v2.90M110.07 228.29l1.74 1.74M110.07 230.03l1.74 -1.74M109.84 229.22h2.90M111.29 227.77v2.90M110.42 228.35l1.74 1.74M110.42 230.09l1.74 -1.74M110.17 229.24h2.90M111.62 227.79v2.90M110.75 228.37l1.74 1.74M110.75 230.11l1.74 -1.74M110.55 229.10h2.90M112.00 227.65v2.90M111.13 228.23l1.74 1.74M111.13 229.97l1.74 -1.74M110.93 228.77h2.90M112.38 227.32v2.90M111.51 227.90l1.74 1.74M111.51 229.64l1.74 -1.74M111.24 229.02h2.90M112.69 227.57v2.90M111.82 228.15l1.74 1.74M111.82 229.89l1.74 -1.74M111.56 228.76h2.90M113.01 227.31v2.90M112.14 227.89l1.74 1.74M112.14 229.63l1.74 -1.74M111.89 228.66h2.90M113.34 227.21v2.90M112.47 227.79l1.74 1.74M112.47 229.53l1.74 -1.74M112.29 228.94h2.90M113.74 227.49v2.90M112.87 228.07l1.74 1.74M112.87 229.81l1.74 -1.74M112.68 228.58h2.90M114.13 227.13v2.90M113.26 227.71l1.74 1.74M113.26 229.45l1.74 -1.74M113.02 228.34h2.90M114.47 226.89v2.90M113.60 227.47l1.74 1.74M113.60 229.21l1.74 -1.74M113.34 228.84h2.90M114.79 227.39v2.90M113.92 227.97l1.74 1.74M113.92 229.71l1.74 -1.74M113.72 228.44h2.90M115.17 226.99v2.90M114.30 227.57l1.74 1.74M114.30 229.31l1.74 -1.74M114.12 228.31h2.90M115.57 226.86v2.90M114.70 227.44l1.74 1.74M114.70 229.18l1.74 -1.74M114.53 228.37h2.90M115.98 226.92v2.90M115.11 227.50l1.74 1.74M115.11 229.24l1.74 -1.74M114.88 228.03h2.90M116.33 226.58v2.90M115.46 227.16l1.74 1.74M115.46 228.90l1.74 -1.74M115.29 228.06h2.90M116.74 226.61v2.90M115.87 227.19l1.74 1.74M115.87 228.93l1.74 -1.74M115.67 228.27h2.90M117.12 226.82v2.90M116.25 227.40l1.74 1.74M116.25 229.14l1.74 -1.74M116.04 227.71h2.90M117.49 226.26v2.90M116.62 226.84l1.74 1.74M116.62 228.58l1.74 -1.74M116.47 227.65h2.90M117.92 226.20v2.90M117.05 226.78l1.74 1.74M117.05 228.52l1.74 -1.74M116.81 227.53h2.90M118.26 226.08v2.90M117.39 226.66l1.74 1.74M117.39 228.40l1.74 -1.74M117.21 227.44h2.90M118.66 225.99v2.90M117.79 226.57l1.74 1.74M117.79 228.31l1.74 -1.74M117.54 227.49h2.90M118.99 226.04v2.90M118.12 226.62l1.74 1.74M118.12 228.36l1.74 -1.74M117.87 227.46h2.90M119.32 226.01v2.90M118.45 226.59l1.74 1.74M118.45 228.33l1.74 -1.74M118.30 227.69h2.90M119.75 226.24v2.90M118.88 226.82l1.74 1.74M118.88 228.56l1.74 -1.74M118.65 227.18h2.90M120.10 225.73v2.90M119.23 226.31l1.74 1.74M119.23 228.05l1.74 -1.74M119.06 227.37h2.90M120.51 225.92v2.90M119.64 226.50l1.74 1.74M119.64 228.24l1.74 -1.74M119.46 227.24h2.90M120.91 225.79v2.90M120.04 226.37l1.74 1.74M120.04 228.11l1.74 -1.74M119.89 227.34h2.90M121.34 225.89v2.90M120.47 226.47l1.74 1.74M120.47 228.21l1.74 -1.74M120.26 227.18h2.90M121.71 225.73v2.90M120.84 226.31l1.74 1.74M120.84 228.05l1.74 -1.74M120.63 226.99h2.90M122.08 225.54v2.90M121.21 226.12l1.74 1.74M121.21 227.86l1.74 -1.74M120.99 226.56h2.90M122.44 225.11v2.90M121.57 225.69l1.74 1.74M121.57 227.43l1.74 -1.74M121.44 227.18h2.90M122.89 225.73v2.90M122.02 226.31l1.74 1.74M122.02 228.05l1.74 -1.74M121.85 226.95h2.90M123.30 225.50v2.90M122.43 226.08l1.74 1.74M122.43 227.82l1.74 -1.74M122.32 226.41h2.90M123.77 224.96v2.90M122.90 225.54l1.74 1.74M122.90 227.28l1.74 -1.74M122.77 226.13h2.90M124.22 224.68v2.90M123.35 225.26l1.74 1.74M123.35 227.00l1.74 -1.74M123.12 226.13h2.90M124.57 224.68v2.90M123.70 225.26l1.74 1.74M123.70 227.00l1.74 -1.74M123.53 226.67h2.90M124.98 225.22v2.90M124.11 225.80l1.74 1.74M124.11 227.54l1.74 -1.74M123.88 226.76h2.90M125.33 225.31v2.90M124.46 225.89l1.74 1.74M124.46 227.63l1.74 -1.74M124.22 225.91h2.90M125.67 224.46v2.90M124.80 225.04l1.74 1.74M124.80 226.78l1.74 -1.74M124.56 226.12h2.90M126.01 224.67v2.90M125.14 225.25l1.74 1.74M125.14 226.99l1.74 -1.74M125.03 226.11h2.90M126.48 224.66v2.90M125.61 225.24l1.74 1.74M125.61 226.98l1.74 -1.74M125.49 225.44h2.90M126.94 223.99v2.90M126.07 224.57l1.74 1.74M126.07 226.31l1.74 -1.74M125.96 225.32h2.90M127.41 223.87v2.90M126.54 224.45l1.74 1.74M126.54 226.19l1.74 -1.74M126.36 225.43h2.90M127.81 223.98v2.90M126.94 224.56l1.74 1.74M126.94 226.30l1.74 -1.74M126.80 225.29h2.90M128.25 223.84v2.90M127.38 224.42l1.74 1.74M127.38 226.16l1.74 -1.74M127.27 225.11h2.90M128.72 223.66v2.90M127.85 224.24l1.74 1.74M127.85 225.98l1.74 -1.74M127.68 224.86h2.90M129.13 223.41v2.90M128.26 223.99l1.74 1.74M128.26 225.73l1.74 -1.74M128.12 224.83h2.90M129.57 223.38v2.90M128.70 223.96l1.74 1.74M128.70 225.70l1.74 -1.74M128.50 224.76h2.90M129.95 223.31v2.90M129.08 223.89l1.74 1.74M129.08 225.63l1.74 -1.74M128.86 224.65h2.90M130.31 223.20v2.90M129.44 223.78l1.74 1.74M129.44 225.52l1.74 -1.74M129.25 225.19h2.90M130.70 223.74v2.90M129.83 224.32l1.74 1.74M129.83 226.06l1.74 -1.74M129.77 224.29h2.90M131.22 222.84v2.90M130.35 223.42l1.74 1.74M130.35 225.16l1.74 -1.74M130.22 224.17h2.90M131.67 222.72v2.90M130.80 223.30l1.74 1.74M130.80 225.04l1.74 -1.74M130.75 224.14h2.90M132.20 222.69v2.90M131.33 223.27l1.74 1.74M131.33 225.01l1.74 -1.74M131.19 224.82h2.90M132.64 223.37v2.90M131.77 223.95l1.74 1.74M131.77 225.69l1.74 -1.74M131.60 224.28h2.90M133.05 222.83v2.90M132.18 223.41l1.74 1.74M132.18 225.15l1.74 -1.74M132.11 223.65h2.90M133.56 222.20v2.90M132.69 222.78l1.74 1.74M132.69 224.52l1.74 -1.74M132.63 224.39h2.90M134.08 222.94v2.90M133.21 223.52l1.74 1.74M133.21 225.26l1.74 -1.74M132.99 223.74h2.90M134.44 222.29v2.90M133.57 222.87l1.74 1.74M133.57 224.61l1.74 -1.74M133.49 223.23h2.90M134.94 221.78v2.90M134.07 222.36l1.74 1.74M134.07 224.10l1.74 -1.74M133.87 223.88h2.90M135.32 222.43v2.90M134.45 223.01l1.74 1.74M134.45 224.75l1.74 -1.74M134.25 223.00h2.90M135.70 221.55v2.90M134.83 222.13l1.74 1.74M134.83 223.87l1.74 -1.74M134.81 222.96h2.90M136.26 221.51v2.90M135.39 222.09l1.74 1.74M135.39 223.83l1.74 -1.74M135.18 223.10h2.90M136.63 221.65v2.90M135.76 222.23l1.74 1.74M135.76 223.97l1.74 -1.74M135.59 222.81h2.90M137.04 221.36v2.90M136.17 221.94l1.74 1.74M136.17 223.68l1.74 -1.74M136.19 222.51h2.90M137.64 221.06v2.90M136.77 221.64l1.74 1.74M136.77 223.38l1.74 -1.74M136.65 222.56h2.90M138.10 221.11v2.90M137.23 221.69l1.74 1.74M137.23 223.43l1.74 -1.74M137.05 222.15h2.90M138.50 220.70v2.90M137.63 221.28l1.74 1.74M137.63 223.02l1.74 -1.74M137.46 222.62h2.90M138.91 221.17v2.90M138.04 221.75l1.74 1.74M138.04 223.49l1.74 -1.74M137.89 222.39h2.90M139.34 220.94v2.90M138.47 221.52l1.74 1.74M138.47 223.26l1.74 -1.74M138.44 221.72h2.90M139.89 220.27v2.90M139.02 220.85l1.74 1.74M139.02 222.59l1.74 -1.74M138.84 221.93h2.90M140.29 220.48v2.90M139.42 221.06l1.74 1.74M139.42 222.80l1.74 -1.74M139.45 222.10h2.90M140.90 220.65v2.90M140.03 221.23l1.74 1.74M140.03 222.97l1.74 -1.74M139.93 221.24h2.90M141.38 219.79v2.90M140.51 220.37l1.74 1.74M140.51 222.11l1.74 -1.74M140.56 221.03h2.90M142.01 219.58v2.90M141.14 220.16l1.74 1.74M141.14 221.90l1.74 -1.74M141.18 221.39h2.90M142.63 219.94v2.90M141.76 220.52l1.74 1.74M141.76 222.26l1.74 -1.74M141.65 221.63h2.90M143.10 220.18v2.90M142.23 220.76l1.74 1.74M142.23 222.50l1.74 -1.74M142.10 220.96h2.90M143.55 219.51v2.90M142.68 220.09l1.74 1.74M142.68 221.83l1.74 -1.74M142.62 220.80h2.90M144.07 219.35v2.90M143.20 219.93l1.74 1.74M143.20 221.67l1.74 -1.74M143.04 220.73h2.90M144.49 219.28v2.90M143.62 219.86l1.74 1.74M143.62 221.60l1.74 -1.74M143.62 220.01h2.90M145.07 218.56v2.90M144.20 219.14l1.74 1.74M144.20 220.88l1.74 -1.74M144.03 220.73h2.90M145.48 219.28v2.90M144.61 219.86l1.74 1.74M144.61 221.60l1.74 -1.74M144.43 219.74h2.90M145.88 218.29v2.90M145.01 218.87l1.74 1.74M145.01 220.61l1.74 -1.74M145.12 220.48h2.90M146.57 219.03v2.90M145.70 219.61l1.74 1.74M145.70 221.35l1.74 -1.74M145.60 220.10h2.90M147.05 218.65v2.90M146.18 219.23l1.74 1.74M146.18 220.97l1.74 -1.74M146.19 219.25h2.90M147.64 217.80v2.90M146.77 218.38l1.74 1.74M146.77 220.12l1.74 -1.74M146.73 218.93h2.90M148.18 217.48v2.90M147.31 218.06l1.74 1.74M147.31 219.80l1.74 -1.74M147.24 218.77h2.90M148.69 217.32v2.90M147.82 217.90l1.74 1.74M147.82 219.64l1.74 -1.74M147.67 218.86h2.90M149.12 217.41v2.90M148.25 217.99l1.74 1.74M148.25 219.73l1.74 -1.74M148.38 218.71h2.90M149.83 217.26v2.90M148.96 217.84l1.74 1.74M148.96 219.58l1.74 -1.74M149.11 218.44h2.90M150.56 216.99v2.90M149.69 217.57l1.74 1.74M149.69 219.31l1.74 -1.74M149.85 217.96h2.90M151.30 216.51v2.90M150.43 217.09l1.74 1.74M150.43 218.83l1.74 -1.74M150.31 218.17h2.90M151.76 216.72v2.90M150.89 217.30l1.74 1.74M150.89 219.04l1.74 -1.74M150.81 217.76h2.90M152.26 216.31v2.90M151.39 216.89l1.74 1.74M151.39 218.63l1.74 -1.74M151.45 217.37h2.90M152.90 215.92v2.90M152.03 216.50l1.74 1.74M152.03 218.24l1.74 -1.74M152.22 217.38h2.90M153.67 215.93v2.90M152.80 216.51l1.74 1.74M152.80 218.25l1.74 -1.74M152.85 216.74h2.90M154.30 215.29v2.90M153.43 215.87l1.74 1.74M153.43 217.61l1.74 -1.74M153.54 216.58h2.90M154.99 215.13v2.90M154.12 215.71l1.74 1.74M154.12 217.45l1.74 -1.74M154.23 216.13h2.90M155.68 214.68v2.90M154.81 215.26l1.74 1.74M154.81 217.00l1.74 -1.74M154.77 216.24h2.90M156.22 214.79v2.90M155.35 215.37l1.74 1.74M155.35 217.11l1.74 -1.74M155.42 216.41h2.90M156.87 214.96v2.90M156.00 215.54l1.74 1.74M156.00 217.28l1.74 -1.74M155.99 216.16h2.90M157.44 214.71v2.90M156.57 215.29l1.74 1.74M156.57 217.03l1.74 -1.74M156.54 215.74h2.90M157.99 214.29v2.90M157.12 214.87l1.74 1.74M157.12 216.61l1.74 -1.74M157.02 215.01h2.90M158.47 213.56v2.90M157.60 214.14l1.74 1.74M157.60 215.88l1.74 -1.74M157.59 215.51h2.90M159.04 214.06v2.90M158.17 214.64l1.74 1.74M158.17 216.38l1.74 -1.74M158.46 214.74h2.90M159.91 213.29v2.90M159.04 213.87l1.74 1.74M159.04 215.61l1.74 -1.74M159.11 214.15h2.90M160.56 212.70v2.90M159.69 213.28l1.74 1.74M159.69 215.02l1.74 -1.74M159.86 215.99h2.90M161.31 214.54v2.90M160.44 215.12l1.74 1.74M160.44 216.86l1.74 -1.74M160.61 214.80h2.90M162.06 213.35v2.90M161.19 213.93l1.74 1.74M161.19 215.67l1.74 -1.74M161.50 213.57h2.90M162.95 212.12v2.90M162.08 212.70l1.74 1.74M162.08 214.44l1.74 -1.74M162.16 213.19h2.90M163.61 211.74v2.90M162.74 212.32l1.74 1.74M162.74 214.06l1.74 -1.74M162.78 213.03h2.90M164.23 211.58v2.90M163.36 212.16l1.74 1.74M163.36 213.90l1.74 -1.74M163.42 213.20h2.90M164.87 211.75v2.90M164.00 212.33l1.74 1.74M164.00 214.07l1.74 -1.74M164.06 212.20h2.90M165.51 210.75v2.90M164.64 211.33l1.74 1.74M164.64 213.07l1.74 -1.74M164.96 212.05h2.90M166.41 210.60v2.90M165.54 211.18l1.74 1.74M165.54 212.92l1.74 -1.74M165.90 212.20h2.90M167.35 210.75v2.90M166.48 211.33l1.74 1.74M166.48 213.07l1.74 -1.74M166.56 210.91h2.90M168.01 209.46v2.90M167.14 210.04l1.74 1.74M167.14 211.78l1.74 -1.74M167.23 210.99h2.90M168.68 209.54v2.90M167.81 210.12l1.74 1.74M167.81 211.86l1.74 -1.74M168.03 211.30h2.90M169.48 209.85v2.90M168.61 210.43l1.74 1.74M168.61 212.17l1.74 -1.74M168.85 210.59h2.90M170.30 209.14v2.90M169.43 209.72l1.74 1.74M169.43 211.46l1.74 -1.74M169.69 210.31h2.90M171.14 208.86v2.90M170.27 209.44l1.74 1.74M170.27 211.18l1.74 -1.74M170.35 209.88h2.90M171.80 208.43v2.90M170.93 209.01l1.74 1.74M170.93 210.75l1.74 -1.74M170.89 211.68h2.90M172.34 210.23v2.90M171.47 210.81l1.74 1.74M171.47 212.55l1.74 -1.74M171.56 209.65h2.90M173.01 208.20v2.90M172.14 208.78l1.74 1.74M172.14 210.52l1.74 -1.74M172.14 208.29h2.90M173.59 206.84v2.90M172.72 207.42l1.74 1.74M172.72 209.16l1.74 -1.74M173.00 209.52h2.90M174.45 208.07v2.90M173.58 208.65l1.74 1.74M173.58 210.39l1.74 -1.74M173.59 208.36h2.90M175.04 206.91v2.90M174.17 207.49l1.74 1.74M174.17 209.23l1.74 -1.74M174.19 207.29h2.90M175.64 205.84v2.90M174.77 206.42l1.74 1.74M174.77 208.16l1.74 -1.74M175.13 206.86h2.90M176.58 205.41v2.90M175.71 205.99l1.74 1.74M175.71 207.73l1.74 -1.74M175.87 206.45h2.90M177.32 205.00v2.90M176.45 205.58l1.74 1.74M176.45 207.32l1.74 -1.74M176.93 208.14h2.90M178.38 206.69v2.90M177.51 207.27l1.74 1.74M177.51 209.01l1.74 -1.74M177.82 206.55h2.90M179.27 205.10v2.90M178.40 205.68l1.74 1.74M178.40 207.42l1.74 -1.74M178.97 205.97h2.90M180.42 204.52v2.90M179.55 205.10l1.74 1.74M179.55 206.84l1.74 -1.74M179.66 204.75h2.90M181.11 203.30v2.90M180.24 203.88l1.74 1.74M180.24 205.62l1.74 -1.74M180.59 204.01h2.90M182.04 202.56v2.90M181.17 203.14l1.74 1.74M181.17 204.88l1.74 -1.74M181.74 206.74h2.90M183.19 205.29v2.90M182.32 205.87l1.74 1.74M182.32 207.61l1.74 -1.74M182.40 203.05h2.90M183.85 201.60v2.90M182.98 202.18l1.74 1.74M182.98 203.92l1.74 -1.74M183.69 204.60h2.90M185.14 203.15v2.90M184.27 203.73l1.74 1.74M184.27 205.47l1.74 -1.74M184.44 202.14h2.90M185.89 200.69v2.90M185.02 201.27l1.74 1.74M185.02 203.01l1.74 -1.74M185.65 203.64h2.90M187.10 202.19v2.90M186.23 202.77l1.74 1.74M186.23 204.51l1.74 -1.74M187.05 201.22h2.90M188.50 199.77v2.90M187.63 200.35l1.74 1.74M187.63 202.09l1.74 -1.74M188.34 199.74h2.90M189.79 198.29v2.90M188.92 198.87l1.74 1.74M188.92 200.61l1.74 -1.74M189.26 200.32h2.90M190.71 198.87v2.90M189.84 199.45l1.74 1.74M189.84 201.19l1.74 -1.74M190.01 199.54h2.90M191.46 198.09v2.90M190.59 198.67l1.74 1.74M190.59 200.41l1.74 -1.74M191.11 198.25h2.90M192.56 196.80v2.90M191.69 197.38l1.74 1.74M191.69 199.12l1.74 -1.74M192.58 198.11h2.90M194.03 196.66v2.90M193.16 197.24l1.74 1.74M193.16 198.98l1.74 -1.74M193.53 197.82h2.90M194.98 196.37v2.90M194.11 196.95l1.74 1.74M194.11 198.69l1.74 -1.74M195.03 195.79h2.90M196.48 194.34v2.90M195.61 194.92l1.74 1.74M195.61 196.66l1.74 -1.74M195.87 195.28h2.90M197.32 193.83v2.90M196.45 194.41l1.74 1.74M196.45 196.15l1.74 -1.74M197.44 195.73h2.90M198.89 194.28v2.90M198.02 194.86l1.74 1.74M198.02 196.60l1.74 -1.74M198.21 193.82h2.90M199.66 192.37v2.90M198.79 192.95l1.74 1.74M198.79 194.69l1.74 -1.74M200.91 194.70h2.90M202.36 193.25v2.90M201.49 193.83l1.74 1.74M201.49 195.57l1.74 -1.74M202.50 191.07h2.90M203.95 189.62v2.90M203.08 190.20l1.74 1.74M203.08 191.94l1.74 -1.74M204.23 191.48h2.90M205.68 190.03v2.90M204.81 190.61l1.74 1.74M204.81 192.35l1.74 -1.74M207.60 188.73h2.90M209.05 187.28v2.90M208.18 187.86l1.74 1.74M208.18 189.60l1.74 -1.74M209.23 186.82h2.90M210.68 185.37v2.90M209.81 185.95l1.74 1.74M209.81 187.69l1.74 -1.74M210.29 186.79h2.90M211.74 185.34v2.90M210.87 185.92l1.74 1.74M210.87 187.66l1.74 -1.74M211.67 185.22h2.90M213.12 183.77v2.90M212.25 184.35l1.74 1.74M212.25 186.09l1.74 -1.74M214.52 186.53h2.90M215.97 185.08v2.90M215.10 185.66l1.74 1.74M215.10 187.40l1.74 -1.74M216.29 185.30h2.90M217.74 183.85v2.90M216.87 184.43l1.74 1.74M216.87 186.17l1.74 -1.74M217.55 181.02h2.90M219.00 179.57v2.90M218.13 180.15l1.74 1.74M218.13 181.89l1.74 -1.74M218.58 182.84h2.90M220.03 181.39v2.90M219.16 181.97l1.74 1.74M219.16 183.71l1.74 -1.74M223.01 179.75h2.90M224.46 178.30v2.90M223.59 178.88l1.74 1.74M223.59 180.62l1.74 -1.74M224.83 179.19h2.90M226.28 177.74v2.90M225.41 178.32l1.74 1.74M225.41 180.06l1.74 -1.74M226.68 173.52h2.90M228.13 172.07v2.90M227.26 172.65l1.74 1.74M227.26 174.39l1.74 -1.74M230.89 170.38h2.90M232.34 168.93v2.90M231.47 169.51l1.74 1.74M231.47 171.25l1.74 -1.74M232.66 168.62h2.90M234.11 167.17v2.90M233.24 167.75l1.74 1.74M233.24 169.49l1.74 -1.74M229.98 174.33h2.90M231.43 172.88v2.90M230.56 173.46l1.74 1.74M230.56 175.20l1.74 -1.74M230.73 171.94h2.90M232.18 170.49v2.90M231.31 171.07l1.74 1.74M231.31 172.81l1.74 -1.74M231.49 173.54h2.90M232.94 172.09v2.90M232.07 172.67l1.74 1.74M232.07 174.41l1.74 -1.74M232.24 169.23h2.90M233.69 167.78v2.90M232.82 168.36l1.74 1.74M232.82 170.10l1.74 -1.74M232.99 168.34h2.90M234.44 166.89v2.90M233.57 167.47l1.74 1.74M233.57 169.21l1.74 -1.74M236.76 165.96h2.90M238.21 164.51v2.90M237.34 165.09l1.74 1.74M237.34 166.83l1.74 -1.74M242.79 160.70h2.90M244.24 159.25v2.90M243.37 159.83l1.74 1.74M243.37 161.57l1.74 -1.74M245.05 158.66h2.90M246.50 157.21v2.90M245.63 157.79l1.74 1.74M245.63 159.53l1.74 -1.74M247.81 156.13h2.90M249.26 154.68v2.90M248.39 155.26l1.74 1.74M248.39 157.00l1.74 -1.74M250.32 153.79h2.90M251.77 152.34v2.90M250.90 152.92l1.74 1.74M250.90 154.66l1.74 -1.74M255.59 148.73h2.90M257.04 147.28v2.90M256.17 147.86l1.74 1.74M256.17 149.60l1.74 -1.74M260.11 144.25h2.90M261.56 142.80v2.90M260.69 143.38l1.74 1.74M260.69 145.12l1.74 -1.74M264.88 139.38h2.90M266.33 137.93v2.90M265.46 138.51l1.74 1.74M265.46 140.25l1.74 -1.74M271.91 131.91h2.90M273.36 130.46v2.90M272.49 131.04l1.74 1.74M272.49 132.78l1.74 -1.74M273.92 129.71h2.90M275.37 128.26v2.90M274.50 128.84l1.74 1.74M274.50 130.58l1.74 -1.74M275.93 127.48h2.90M277.38 126.03v2.90M276.51 126.61l1.74 1.74M276.51 128.35l1.74 -1.74M280.95 121.80h2.90M282.40 120.35v2.90M281.53 120.93l1.74 1.74M281.53 122.67l1.74 -1.74M285.72 116.24h2.90M287.17 114.79v2.90M286.30 115.37l1.74 1.74M286.30 117.11l1.74 -1.74M291.49 109.29h2.90M292.94 107.84v2.90M292.07 108.42l1.74 1.74M292.07 110.16l1.74 -1.74M296.52 103.05h2.90M297.97 101.60v2.90M297.10 102.18l1.74 1.74M297.10 103.92l1.74 -1.74M299.78 98.89h2.90M301.23 97.44v2.90M300.36 98.02l1.74 1.74M300.36 99.76l1.74 -1.74M305.81 91.02h2.90M307.25 89.57v2.90M306.38 90.15l1.74 1.74M306.38 91.89l1.74 -1.74M309.32 86.31h2.90M310.77 84.86v2.90M309.90 85.44l1.74 1.74M309.90 87.18l1.74 -1.74M322.88 67.26h2.90M324.33 65.81v2.90M323.46 66.39l1.74 1.74M323.46 68.13l1.74 -1.74M182.12 204.88h2.90M183.57 203.43v2.90M182.70 204.01l1.74 1.74M182.70 205.75l1.74 -1.74M182.78 202.84h2.90M184.23 201.39v2.90M183.36 201.97l1.74 1.74M183.36 203.71l1.74 -1.74M184.07 202.14h2.90M185.52 200.69v2.90M184.65 201.27l1.74 1.74M184.65 203.01l1.74 -1.74M184.82 202.78h2.90M186.27 201.33v2.90M185.40 201.91l1.74 1.74M185.40 203.65l1.74 -1.74M186.03 203.92h2.90M187.48 202.47v2.90M186.61 203.05l1.74 1.74M186.61 204.79l1.74 -1.74M187.42 200.27h2.90M188.87 198.82v2.90M188.00 199.40l1.74 1.74M188.00 201.14l1.74 -1.74M188.72 200.57h2.90M190.17 199.12v2.90M189.30 199.70l1.74 1.74M189.30 201.44l1.74 -1.74M189.63 200.59h2.90M191.08 199.14v2.90M190.21 199.72l1.74 1.74M190.21 201.46l1.74 -1.74M190.39 199.10h2.90M191.84 197.65v2.90M190.97 198.23l1.74 1.74M190.97 199.97l1.74 -1.74M191.49 198.45h2.90M192.94 197.00v2.90M192.07 197.58l1.74 1.74M192.07 199.32l1.74 -1.74M192.95 197.04h2.90M194.40 195.59v2.90M193.53 196.17l1.74 1.74M193.53 197.91l1.74 -1.74M193.90 198.66h2.90M195.35 197.21v2.90M194.48 197.79l1.74 1.74M194.48 199.53l1.74 -1.74M195.40 195.56h2.90M196.85 194.11v2.90M195.98 194.69l1.74 1.74M195.98 196.43l1.74 -1.74M196.25 195.04h2.90M197.70 193.59v2.90M196.83 194.17l1.74 1.74M196.83 195.91l1.74 -1.74M197.82 194.07h2.90M199.27 192.62v2.90M198.40 193.20l1.74 1.74M198.40 194.94l1.74 -1.74M198.58 194.91h2.90M200.03 193.46v2.90M199.16 194.04l1.74 1.74M199.16 195.78l1.74 -1.74M201.28 193.96h2.90M202.73 192.51v2.90M201.86 193.09l1.74 1.74M201.86 194.83l1.74 -1.74M202.87 190.83h2.90M204.32 189.38v2.90M203.45 189.96l1.74 1.74M203.45 191.70l1.74 -1.74M204.61 190.73h2.90M206.06 189.28v2.90M205.19 189.86l1.74 1.74M205.19 191.60l1.74 -1.74M207.98 188.49h2.90M209.43 187.04v2.90M208.56 187.62l1.74 1.74M208.56 189.36l1.74 -1.74M209.60 186.28h2.90M211.05 184.83v2.90M210.18 185.41l1.74 1.74M210.18 187.15l1.74 -1.74M210.66 187.24h2.90M212.11 185.79v2.90M211.24 186.37l1.74 1.74M211.24 188.11l1.74 -1.74M212.04 189.33h2.90M213.49 187.88v2.90M212.62 188.46l1.74 1.74M212.62 190.20l1.74 -1.74M214.90 184.51h2.90M216.35 183.06v2.90M215.48 183.64l1.74 1.74M215.48 185.38l1.74 -1.74M216.67 185.59h2.90M218.12 184.14v2.90M217.25 184.72l1.74 1.74M217.25 186.46l1.74 -1.74M217.93 180.41h2.90M219.38 178.96v2.90M218.51 179.54l1.74 1.74M218.51 181.28l1.74 -1.74M218.95 180.47h2.90M220.40 179.02v2.90M219.53 179.60l1.74 1.74M219.53 181.34l1.74 -1.74M223.38 178.75h2.90M224.83 177.30v2.90M223.96 177.88l1.74 1.74M223.96 179.62l1.74 -1.74M225.20 176.31h2.90M226.65 174.86v2.90M225.78 175.44l1.74 1.74M225.78 177.18l1.74 -1.74M227.06 173.34h2.90M228.51 171.89v2.90M227.64 172.47l1.74 1.74M227.64 174.21l1.74 -1.74M231.27 171.36h2.90M232.72 169.91v2.90M231.85 170.49l1.74 1.74M231.85 172.23l1.74 -1.74M233.04 168.30h2.90M234.49 166.85v2.90M233.62 167.43l1.74 1.74M233.62 169.17l1.74 -1.74M230.36 172.36h2.90M231.81 170.91v2.90M230.94 171.49l1.74 1.74M230.94 173.23l1.74 -1.74M231.11 169.91h2.90M232.56 168.46v2.90M231.69 169.04l1.74 1.74M231.69 170.78l1.74 -1.74M231.86 169.29h2.90M233.31 167.84v2.90M232.44 168.42l1.74 1.74M232.44 170.16l1.74 -1.74M232.62 168.66h2.90M234.07 167.21v2.90M233.20 167.79l1.74 1.74M233.20 169.53l1.74 -1.74M233.37 171.13h2.90M234.82 169.68v2.90M233.95 170.26l1.74 1.74M233.95 172.00l1.74 -1.74"/>
</g>
<g fill="none" stroke="#000" stroke-width="0.65">
<path d="M55.43 233.06L56.88 235.67L53.98 235.67ZM55.68 233.05L57.13 235.66L54.23 235.66ZM55.94 233.04L57.39 235.65L54.49 235.65ZM56.19 233.03L57.64 235.64L54.74 235.64ZM56.44 233.02L57.89 235.63L54.99 235.63ZM56.69 233.01L58.14 235.62L55.24 235.62ZM56.95 233.00L58.40 235.61L55.50 235.61ZM57.20 232.99L58.65 235.60L55.75 235.60ZM57.45 232.98L58.90 235.59L56.00 235.59ZM57.71 232.97L59.16 235.58L56.26 235.58ZM57.96 232.96L59.41 235.57L56.51 235.57ZM58.21 232.95L59.66 235.56L56.76 235.56ZM58.47 232.94L59.92 235.55L57.02 235.55ZM58.72 232.93L60.17 235.54L57.27 235.54ZM58.97 232.92L60.42 235.53L57.52 235.53ZM59.23 232.90L60.68 235.51L57.78 235.51ZM59.48 232.89L60.93 235.50L58.03 235.50ZM59.73 232.88L61.18 235.49L58.28 235.49ZM59.99 232.87L61.44 235.48L58.54 235.48ZM60.24 232.86L61.69 235.47L58.79 235.47ZM60.50 232.84L61.95 235.45L59.05 235.45ZM60.75 232.83L62.20 235.44L59.30 235.44ZM61.00 232.82L62.45 235.43L59.55 235.43ZM61.26 232.81L62.71 235.42L59.81 235.42ZM61.51 232.79L62.96 235.40L60.06 235.40ZM61.77 232.78L63.22 235.39L60.32 235.39ZM62.02 232.77L63.47 235.38L60.57 235.38ZM62.27 232.75L63.72 235.36L60.82 235.36ZM62.53 232.74L63.98 235.35L61.08 235.35ZM62.78 232.73L64.23 235.34L61.33 235.34ZM63.04 232.71L64.49 235.32L61.59 235.32ZM63.29 232.70L64.74 235.31L61.84 235.31ZM63.55 232.68L65.00 235.29L62.10 235.29ZM63.80 232.67L65.25 235.28L62.35 235.28ZM64.05 232.65L65.50 235.26L62.60 235.26ZM64.31 232.64L65.76 235.25L62.86 235.25ZM64.56 232.62L66.01 235.23L63.11 235.23ZM64.82 232.61L66.27 235.22L63.37 235.22ZM65.08 232.59L66.53 235.20L63.63 235.20ZM65.33 232.58L66.78 235.19L63.88 235.19ZM65.59 232.56L67.04 235.17L64.14 235.17ZM65.85 232.54L67.30 235.15L64.40 235.15ZM66.11 232.53L67.56 235.14L64.66 235.14ZM66.36 232.51L67.81 235.12L64.91 235.12ZM66.62 232.49L68.07 235.10L65.17 235.10ZM66.88 232.48L68.33 235.09L65.43 235.09ZM67.13 232.46L68.58 235.07L65.68 235.07ZM67.40 232.44L68.85 235.05L65.95 235.05ZM67.65 232.42L69.10 235.03L66.20 235.03ZM67.91 232.41L69.36 235.02L66.46 235.02ZM68.17 232.39L69.62 235.00L66.72 235.00ZM68.43 232.37L69.88 234.98L66.98 234.98ZM68.69 232.35L70.14 234.96L67.24 234.96ZM68.95 232.33L70.40 234.94L67.50 234.94ZM69.21 232.31L70.66 234.92L67.76 234.92ZM69.47 232.29L70.92 234.90L68.02 234.90ZM69.73 232.27L71.18 234.88L68.28 234.88ZM69.98 232.25L71.43 234.86L68.53 234.86ZM70.24 232.24L71.69 234.85L68.79 234.85ZM70.50 232.22L71.95 234.83L69.05 234.83ZM70.76 232.20L72.21 234.81L69.31 234.81ZM71.02 232.17L72.47 234.78L69.57 234.78ZM71.28 232.15L72.73 234.76L69.83 234.76ZM71.54 232.13L72.99 234.74L70.09 234.74ZM71.81 232.11L73.26 234.72L70.36 234.72ZM72.07 232.09L73.52 234.70L70.62 234.70ZM72.33 232.07L73.78 234.68L70.88 234.68ZM72.59 232.05L74.04 234.66L71.14 234.66ZM72.85 232.03L74.30 234.64L71.40 234.64ZM73.11 232.00L74.56 234.61L71.66 234.61ZM73.37 231.98L74.82 234.59L71.92 234.59ZM73.64 231.96L75.09 234.57L72.19 234.57ZM73.89 231.94L75.34 234.55L72.44 234.55ZM74.15 231.91L75.60 234.52L72.70 234.52ZM74.42 231.89L75.87 234.50L72.97 234.50ZM74.69 231.87L76.14 234.48L73.24 234.48ZM74.95 231.84L76.40 234.45L73.50 234.45ZM75.21 231.82L76.66 234.43L73.76 234.43ZM75.47 231.79L76.92 234.40L74.02 234.40ZM75.74 231.77L77.19 234.38L74.29 234.38ZM76.01 231.74L77.46 234.35L74.56 234.35ZM76.28 231.72L77.73 234.33L74.83 234.33ZM76.54 231.69L77.99 234.30L75.09 234.30ZM76.81 231.67L78.26 234.28L75.36 234.28ZM77.08 231.64L78.53 234.25L75.63 234.25ZM77.34 231.62L78.79 234.23L75.89 234.23ZM77.61 231.59L79.06 234.20L76.16 234.20ZM77.88 231.56L79.33 234.17L76.43 234.17ZM78.15 231.53L79.60 234.14L76.70 234.14ZM78.41 231.51L79.86 234.12L76.96 234.12ZM78.68 231.48L80.13 234.09L77.23 234.09ZM78.96 231.45L80.41 234.06L77.51 234.06ZM79.22 231.43L80.67 234.04L77.77 234.04ZM79.49 231.40L80.94 234.01L78.04 234.01ZM79.76 231.37L81.21 233.98L78.31 233.98ZM80.04 231.34L81.49 233.95L78.59 233.95ZM80.31 231.31L81.76 233.92L78.86 233.92ZM80.59 231.28L82.04 233.89L79.14 233.89ZM80.86 231.25L82.31 233.86L79.41 233.86ZM81.13 231.22L82.58 233.83L79.68 233.83ZM81.40 231.19L82.85 233.80L79.95 233.80ZM81.66 231.16L83.11 233.77L80.21 233.77ZM81.94 231.13L83.39 233.74L80.49 233.74ZM82.22 231.10L83.67 233.71L80.77 233.71ZM82.48 231.07L83.93 233.68L81.03 233.68ZM82.76 231.04L84.21 233.65L81.31 233.65ZM83.03 231.00L84.48 233.61L81.58 233.61ZM83.30 230.97L84.75 233.58L81.85 233.58ZM83.57 230.94L85.02 233.55L82.12 233.55ZM83.85 230.91L85.30 233.52L82.40 233.52ZM84.12 230.87L85.57 233.48L82.67 233.48ZM84.40 230.84L85.85 233.45L82.95 233.45ZM84.68 230.81L86.13 233.42L83.23 233.42ZM84.94 230.78L86.39 233.39L83.49 233.39ZM85.21 230.74L86.66 233.35L83.76 233.35ZM85.48 230.71L86.93 233.32L84.03 233.32ZM85.76 230.67L87.21 233.28L84.31 233.28ZM86.05 230.64L87.50 233.25L84.60 233.25ZM86.33 230.60L87.78 233.21L84.88 233.21ZM86.62 230.56L88.07 233.17L85.17 233.17ZM86.91 230.53L88.36 233.14L85.46 233.14ZM87.18 230.49L88.63 233.10L85.73 233.10ZM87.47 230.45L88.92 233.06L86.02 233.06ZM87.76 230.42L89.21 233.03L86.31 233.03ZM88.03 230.38L89.48 232.99L86.58 232.99ZM88.29 230.34L89.74 232.95L86.84 232.95ZM88.56 230.31L90.01 232.92L87.11 232.92ZM88.85 230.27L90.30 232.88L87.40 232.88ZM89.13 230.23L90.58 232.84L87.68 232.84ZM89.40 230.19L90.85 232.80L87.95 232.80ZM89.68 230.15L91.13 232.76L88.23 232.76ZM89.96 230.11L91.41 232.72L88.51 232.72ZM90.23 230.08L91.68 232.69L88.78 232.69ZM90.51 230.04L91.96 232.65L89.06 232.65ZM90.80 230.00L92.25 232.61L89.35 232.61ZM91.07 229.96L92.52 232.57L89.62 232.57ZM91.35 229.92L92.80 232.53L89.90 232.53ZM91.65 229.87L93.10 232.48L90.20 232.48ZM91.93 229.83L93.38 232.44L90.48 232.44ZM92.22 229.79L93.67 232.40L90.77 232.40ZM92.50 229.75L93.95 232.36L91.05 232.36ZM92.78 229.71L94.23 232.32L91.33 232.32ZM93.06 229.66L94.51 232.27L91.61 232.27ZM93.35 229.62L94.80 232.23L91.90 232.23ZM93.63 229.58L95.08 232.19L92.18 232.19ZM93.91 229.54L95.36 232.15L92.46 232.15ZM94.22 229.49L95.67 232.10L92.77 232.10ZM94.51 229.44L95.96 232.05L93.06 232.05ZM94.79 229.40L96.24 232.01L93.34 232.01ZM95.10 229.35L96.55 231.96L93.65 231.96ZM95.41 229.30L96.86 231.91L93.96 231.91ZM95.68 229.26L97.13 231.87L94.23 231.87ZM95.96 229.21L97.41 231.82L94.51 231.82ZM96.24 229.17L97.69 231.78L94.79 231.78ZM96.55 229.12L98.00 231.73L95.10 231.73ZM96.83 229.07L98.28 231.68L95.38 231.68ZM97.14 229.02L98.59 231.63L95.69 231.63ZM97.45 228.97L98.90 231.58L96.00 231.58ZM97.75 228.92L99.20 231.53L96.30 231.53ZM98.04 228.87L99.49 231.48L96.59 231.48ZM98.37 228.81L99.82 231.42L96.92 231.42ZM98.69 228.76L100.14 231.37L97.24 231.37ZM99.00 228.71L100.45 231.32L97.55 231.32ZM99.29 228.66L100.74 231.27L97.84 231.27ZM99.60 228.55L101.05 231.16L98.15 231.16ZM99.90 228.89L101.35 231.50L98.45 231.50ZM100.22 228.73L101.67 231.34L98.77 231.34ZM100.52 228.80L101.97 231.41L99.07 231.41ZM100.83 228.33L102.28 230.94L99.38 230.94ZM101.12 228.60L102.57 231.21L99.67 231.21ZM101.42 228.36L102.87 230.97L99.97 230.97ZM101.76 228.33L103.21 230.94L100.31 230.94ZM102.10 228.24L103.55 230.85L100.65 230.85ZM102.40 228.27L103.85 230.88L100.95 230.88ZM102.74 228.08L104.19 230.69L101.29 230.69ZM103.04 227.92L104.49 230.53L101.59 230.53ZM103.39 227.99L104.84 230.60L101.94 230.60ZM103.72 227.85L105.17 230.46L102.27 230.46ZM104.03 227.73L105.48 230.34L102.58 230.34ZM104.34 227.85L105.79 230.46L102.89 230.46ZM104.62 227.98L106.07 230.59L103.17 230.59ZM104.97 227.80L106.42 230.41L103.52 230.41ZM105.26 227.49L106.71 230.10L103.81 230.10ZM105.61 227.87L107.06 230.48L104.16 230.48ZM105.97 227.62L107.42 230.23L104.52 230.23ZM106.30 227.28L107.75 229.89L104.85 229.89ZM106.60 227.24L108.05 229.85L105.15 229.85ZM106.96 227.31L108.41 229.92L105.51 229.92ZM107.33 227.09L108.78 229.70L105.88 229.70ZM107.68 227.14L109.13 229.75L106.23 229.75ZM108.01 227.33L109.46 229.94L106.56 229.94ZM108.33 227.34L109.78 229.95L106.88 229.95ZM108.65 227.10L110.10 229.71L107.20 229.71ZM108.96 226.73L110.41 229.34L107.51 229.34ZM109.32 226.95L110.77 229.56L107.87 229.56ZM109.65 226.95L111.10 229.56L108.20 229.56ZM109.96 226.86L111.41 229.47L108.51 229.47ZM110.26 226.95L111.71 229.56L108.81 229.56ZM110.62 226.59L112.07 229.20L109.17 229.20ZM110.94 226.74L112.39 229.35L109.49 229.35ZM111.29 226.35L112.74 228.96L109.84 228.96ZM111.62 226.85L113.07 229.46L110.17 229.46ZM112.00 226.20L113.45 228.81L110.55 228.81ZM112.38 226.33L113.83 228.94L110.93 228.94ZM112.69 226.55L114.14 229.16L111.24 229.16ZM113.01 225.89L114.46 228.50L111.56 228.50ZM113.34 226.04L114.79 228.65L111.89 228.65ZM113.74 226.39L115.19 229.00L112.29 229.00ZM114.13 226.00L115.58 228.61L112.68 228.61ZM114.47 225.65L115.92 228.26L113.02 228.26ZM114.79 225.76L116.24 228.37L113.34 228.37ZM115.17 225.38L116.62 227.99L113.72 227.99ZM115.57 225.29L117.02 227.90L114.12 227.90ZM115.98 225.21L117.43 227.82L114.53 227.82ZM116.33 225.21L117.78 227.82L114.88 227.82ZM116.74 224.98L118.19 227.59L115.29 227.59ZM117.12 224.94L118.57 227.55L115.67 227.55ZM117.49 224.91L118.94 227.52L116.04 227.52ZM117.92 225.45L119.37 228.06L116.47 228.06ZM118.26 224.60L119.71 227.21L116.81 227.21ZM118.66 224.50L120.11 227.11L117.21 227.11ZM118.99 224.74L120.44 227.35L117.54 227.35ZM119.32 224.70L120.77 227.31L117.87 227.31ZM119.75 224.23L121.20 226.84L118.30 226.84ZM120.10 224.87L121.55 227.48L118.65 227.48ZM120.51 224.16L121.96 226.77L119.06 226.77ZM120.91 223.93L122.36 226.54L119.46 226.54ZM121.34 224.34L122.79 226.95L119.89 226.95ZM121.71 223.79L123.16 226.40L120.26 226.40ZM122.08 223.63L123.53 226.24L120.63 226.24ZM122.44 223.83L123.89 226.44L120.99 226.44ZM122.89 223.52L124.34 226.13L121.44 226.13ZM123.30 223.31L124.75 225.92L121.85 225.92ZM123.77 223.73L125.22 226.34L122.32 226.34ZM124.22 223.36L125.67 225.97L122.77 225.97ZM124.57 223.15L126.02 225.76L123.12 225.76ZM124.98 222.87L126.43 225.48L123.53 225.48ZM125.33 223.05L126.78 225.66L123.88 225.66ZM125.67 223.01L127.12 225.62L124.22 225.62ZM126.01 223.18L127.46 225.79L124.56 225.79ZM126.48 222.84L127.93 225.45L125.03 225.45ZM126.94 222.31L128.39 224.92L125.49 224.92ZM127.41 222.44L128.86 225.05L125.96 225.05ZM127.81 222.65L129.26 225.26L126.36 225.26ZM128.25 222.52L129.70 225.13L126.80 225.13ZM128.72 221.80L130.17 224.41L127.27 224.41ZM129.13 221.68L130.58 224.29L127.68 224.29ZM129.57 221.64L131.02 224.25L128.12 224.25ZM129.95 222.67L131.40 225.28L128.50 225.28ZM130.31 221.43L131.76 224.04L128.86 224.04ZM130.70 221.36L132.15 223.97L129.25 223.97ZM131.22 221.06L132.67 223.67L129.77 223.67ZM131.67 221.10L133.12 223.71L130.22 223.71ZM132.20 221.12L133.65 223.73L130.75 223.73ZM132.64 220.77L134.09 223.38L131.19 223.38ZM133.05 221.59L134.50 224.20L131.60 224.20ZM133.56 220.35L135.01 222.96L132.11 222.96ZM134.08 220.41L135.53 223.02L132.63 223.02ZM134.44 220.70L135.89 223.31L132.99 223.31ZM134.94 219.91L136.39 222.52L133.49 222.52ZM135.32 219.80L136.77 222.41L133.87 222.41ZM135.70 220.61L137.15 223.22L134.25 223.22ZM136.26 220.14L137.71 222.75L134.81 222.75ZM136.63 219.63L138.08 222.24L135.18 222.24ZM137.04 219.54L138.49 222.15L135.59 222.15ZM137.64 219.60L139.09 222.21L136.19 222.21ZM138.10 219.70L139.55 222.31L136.65 222.31ZM138.50 218.76L139.95 221.37L137.05 221.37ZM138.91 218.63L140.36 221.24L137.46 221.24ZM139.34 219.41L140.79 222.02L137.89 222.02ZM139.89 219.30L141.34 221.91L138.44 221.91ZM140.29 218.16L141.74 220.77L138.84 220.77ZM140.90 217.96L142.35 220.57L139.45 220.57ZM141.38 217.80L142.83 220.41L139.93 220.41ZM142.01 217.62L143.46 220.23L140.56 220.23ZM142.63 218.20L144.08 220.81L141.18 220.81ZM143.10 217.50L144.55 220.11L141.65 220.11ZM143.55 218.52L145.00 221.13L142.10 221.13ZM144.07 217.66L145.52 220.27L142.62 220.27ZM144.49 217.18L145.94 219.79L143.04 219.79ZM145.07 216.69L146.52 219.30L143.62 219.30ZM145.48 217.17L146.93 219.78L144.03 219.78ZM145.88 216.73L147.33 219.34L144.43 219.34ZM146.57 216.19L148.02 218.80L145.12 218.80ZM147.05 216.05L148.50 218.66L145.60 218.66ZM147.64 215.70L149.09 218.31L146.19 218.31ZM148.18 215.73L149.63 218.34L146.73 218.34ZM148.69 215.83L150.14 218.44L147.24 218.44ZM149.12 215.07L150.57 217.68L147.67 217.68ZM149.83 215.21L151.28 217.82L148.38 217.82ZM150.56 215.43L152.01 218.04L149.11 218.04ZM151.30 215.05L152.75 217.66L149.85 217.66ZM151.76 214.52L153.21 217.13L150.31 217.13ZM152.26 214.39L153.71 217.00L150.81 217.00ZM152.90 213.99L154.35 216.60L151.45 216.60ZM153.67 213.79L155.12 216.40L152.22 216.40ZM154.30 213.44L155.75 216.05L152.85 216.05ZM154.99 213.36L156.44 215.97L153.54 215.97ZM155.68 213.79L157.13 216.40L154.23 216.40ZM156.22 212.53L157.67 215.14L154.77 215.14ZM156.87 211.96L158.32 214.57L155.42 214.57ZM157.44 212.03L158.89 214.64L155.99 214.64ZM157.99 212.21L159.44 214.82L156.54 214.82ZM158.47 211.59L159.92 214.20L157.02 214.20ZM159.04 212.29L160.49 214.90L157.59 214.90ZM159.91 212.57L161.36 215.18L158.46 215.18ZM160.56 210.99L162.01 213.60L159.11 213.60ZM161.31 211.36L162.76 213.97L159.86 213.97ZM162.06 209.88L163.51 212.49L160.61 212.49ZM162.95 210.79L164.40 213.40L161.50 213.40ZM163.61 211.63L165.06 214.24L162.16 214.24ZM164.23 210.23L165.68 212.84L162.78 212.84ZM164.87 208.53L166.32 211.14L163.42 211.14ZM165.51 209.20L166.96 211.81L164.06 211.81ZM166.41 209.55L167.86 212.16L164.96 212.16ZM167.35 208.69L168.80 211.30L165.90 211.30ZM168.01 207.40L169.46 210.01L166.56 210.01ZM168.68 207.11L170.13 209.72L167.23 209.72ZM169.48 207.00L170.93 209.61L168.03 209.61ZM170.30 206.04L171.75 208.65L168.85 208.65ZM171.14 205.80L172.59 208.41L169.69 208.41ZM171.80 206.09L173.25 208.70L170.35 208.70ZM172.34 205.32L173.79 207.93L170.89 207.93ZM173.01 204.74L174.46 207.35L171.56 207.35ZM173.59 204.46L175.04 207.07L172.14 207.07ZM174.45 204.04L175.90 206.65L173.00 206.65ZM175.04 205.49L176.49 208.10L173.59 208.10ZM175.64 204.38L177.09 206.99L174.19 206.99ZM176.58 203.14L178.03 205.75L175.13 205.75ZM177.32 203.70L178.77 206.31L175.87 206.31ZM178.38 202.07L179.83 204.68L176.93 204.68ZM179.27 201.90L180.72 204.51L177.82 204.51ZM180.42 201.03L181.87 203.64L178.97 203.64ZM181.11 201.74L182.56 204.35L179.66 204.35ZM182.04 200.18L183.49 202.79L180.59 202.79ZM183.19 199.57L184.64 202.18L181.74 202.18ZM183.85 200.34L185.30 202.95L182.40 202.95ZM185.14 199.35L186.59 201.96L183.69 201.96ZM185.89 198.11L187.34 200.72L184.44 200.72ZM187.10 198.77L188.55 201.38L185.65 201.38ZM188.50 196.70L189.95 199.31L187.05 199.31ZM189.79 195.95L191.24 198.56L188.34 198.56ZM190.71 196.43L192.16 199.04L189.26 199.04ZM191.46 197.35L192.91 199.96L190.01 199.96ZM192.56 195.19L194.01 197.80L191.11 197.80ZM194.03 194.16L195.48 196.77L192.58 196.77ZM194.98 192.96L196.43 195.57L193.53 195.57ZM196.48 192.21L197.93 194.82L195.03 194.82ZM197.32 192.65L198.77 195.26L195.87 195.26ZM198.89 190.68L200.34 193.29L197.44 193.29ZM199.66 190.61L201.11 193.22L198.21 193.22ZM202.36 189.40L203.81 192.01L200.91 192.01ZM203.95 188.63L205.40 191.24L202.50 191.24ZM205.68 187.96L207.13 190.57L204.23 190.57ZM209.05 184.50L210.50 187.11L207.60 187.11ZM210.68 186.02L212.13 188.63L209.23 188.63ZM211.74 184.71L213.19 187.32L210.29 187.32ZM213.12 182.84L214.57 185.45L211.67 185.45ZM215.97 183.28L217.42 185.89L214.52 185.89ZM217.74 180.45L219.19 183.06L216.29 183.06ZM219.00 182.21L220.45 184.82L217.55 184.82ZM220.03 179.31L221.48 181.92L218.58 181.92ZM224.46 174.03L225.91 176.64L223.01 176.64ZM226.28 172.70L227.73 175.31L224.83 175.31ZM228.13 172.47L229.58 175.08L226.68 175.08ZM232.34 169.68L233.79 172.29L230.89 172.29ZM234.11 170.71L235.56 173.32L232.66 173.32ZM231.43 168.18L232.88 170.79L229.98 170.79ZM232.18 168.34L233.63 170.95L230.73 170.95ZM232.94 167.01L234.39 169.62L231.49 169.62ZM233.69 169.96L235.14 172.57L232.24 172.57ZM234.44 168.00L235.89 170.61L232.99 170.61ZM238.21 163.66L239.66 166.27L236.76 166.27ZM244.24 158.75L245.69 161.36L242.79 161.36ZM246.50 156.86L247.95 159.47L245.05 159.47ZM249.26 154.52L250.71 157.13L247.81 157.13ZM251.77 152.35L253.22 154.96L250.32 154.96ZM257.04 147.70L258.49 150.31L255.59 150.31ZM261.56 143.59L263.01 146.20L260.11 146.20ZM266.33 139.13L267.78 141.74L264.88 141.74ZM273.36 132.34L274.81 134.95L271.91 134.95ZM275.37 130.34L276.82 132.95L273.92 132.95ZM277.38 128.33L278.83 130.94L275.93 130.94ZM282.40 123.20L283.85 125.81L280.95 125.81ZM287.17 118.20L288.62 120.81L285.72 120.81ZM292.94 111.98L294.39 114.59L291.49 114.59ZM297.97 106.42L299.42 109.03L296.52 109.03ZM301.23 102.73L302.68 105.34L299.78 105.34ZM307.25 95.76L308.70 98.37L305.81 98.37ZM310.77 91.60L312.22 94.21L309.32 94.21ZM324.33 74.88L325.78 77.49L322.88 77.49ZM183.57 202.11L185.02 204.72L182.12 204.72ZM184.23 199.13L185.68 201.74L182.78 201.74ZM185.52 198.31L186.97 200.92L184.07 200.92ZM186.27 200.84L187.72 203.45L184.82 203.45ZM187.48 198.26L188.93 200.87L186.03 200.87ZM188.87 196.76L190.32 199.37L187.42 199.37ZM190.17 198.70L191.62 201.31L188.72 201.31ZM191.08 198.30L192.53 200.91L189.63 200.91ZM191.84 197.03L193.29 199.64L190.39 199.64ZM192.94 195.93L194.39 198.54L191.49 198.54ZM194.40 196.03L195.85 198.64L192.95 198.64ZM195.35 193.78L196.80 196.39L193.90 196.39ZM196.85 192.65L198.30 195.26L195.40 195.26ZM197.70 191.67L199.15 194.28L196.25 194.28ZM199.27 190.64L200.72 193.25L197.82 193.25ZM200.03 189.92L201.48 192.53L198.58 192.53ZM202.73 188.25L204.18 190.86L201.28 190.86ZM204.32 190.27L205.77 192.88L202.87 192.88ZM206.06 188.10L207.51 190.71L204.61 190.71ZM209.43 186.81L210.88 189.42L207.98 189.42ZM211.05 185.81L212.50 188.42L209.60 188.42ZM212.11 183.63L213.56 186.24L210.66 186.24ZM213.49 182.59L214.94 185.20L212.04 185.20ZM216.35 179.90L217.80 182.51L214.90 182.51ZM218.12 182.09L219.57 184.70L216.67 184.70ZM219.38 180.68L220.83 183.29L217.93 183.29ZM220.40 177.94L221.85 180.55L218.95 180.55ZM224.83 175.12L226.28 177.73L223.38 177.73ZM226.65 174.02L228.10 176.63L225.20 176.63ZM228.51 172.21L229.96 174.82L227.06 174.82ZM232.72 170.43L234.17 173.04L231.27 173.04ZM234.49 166.19L235.94 168.80L233.04 168.80ZM231.81 168.95L233.26 171.56L230.36 171.56ZM232.56 169.24L234.01 171.85L231.11 171.85ZM233.31 169.82L234.76 172.43L231.86 172.43ZM234.07 168.26L235.52 170.87L232.62 170.87ZM234.82 172.81L236.27 175.42L233.37 175.42Z"/>
</g>
<g font-size="12">
<path d="M92.40 44.50L95.00 47.10M92.40 47.10L95.00 44.50" stroke="#666" stroke-width="0.7"/>
<text transform="translate(99 49.2) scale(1 0.94)">Díaz</text>
<ellipse cx="140.9" cy="45.6" rx="1.2" ry="0.8" fill="#555"/>
<text transform="translate(146.3 49.2) scale(1 0.94)">Pacheco</text>
<path d="M209.80 44.20L211.20 46.72L208.40 46.72Z" fill="#aaa" stroke="#555" stroke-width="0.7"/>
<text transform="translate(215.4 49.2) scale(0.99 0.94)">Castellanos</text>
</g>
</svg>
</body></html>
